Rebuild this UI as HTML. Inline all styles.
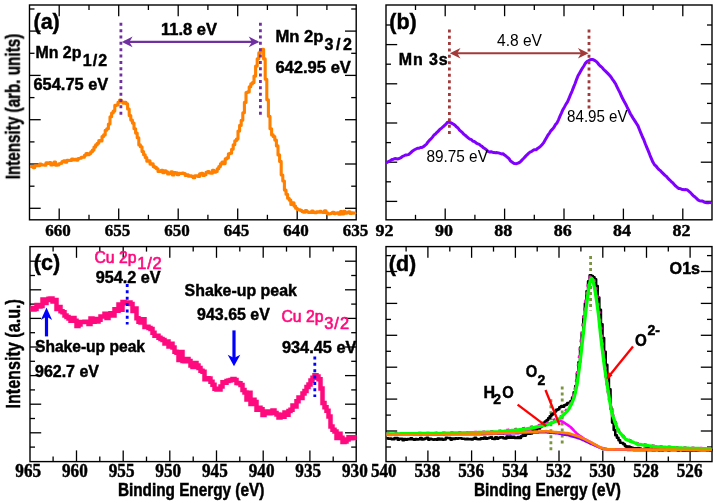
<!DOCTYPE html>
<html><head><meta charset="utf-8"><title>XPS spectra</title>
<style>html,body{margin:0;padding:0;background:#fff}svg{display:block}</style>
</head><body>
<svg width="717" height="503" viewBox="0 0 717 503">
<rect width="717" height="503" fill="#fff"/>
<defs><filter id="soft" x="0" y="0" width="100%" height="100%" filterUnits="userSpaceOnUse" color-interpolation-filters="sRGB"><feGaussianBlur stdDeviation="0.38"/></filter></defs>
<g filter="url(#soft)">
<rect width="717" height="503" fill="#fff"/>
<rect x="29.5" y="5" width="326.7" height="214.8" fill="#fff" stroke="#000" stroke-width="1.4"/>
<line x1="59.2" y1="219.8" x2="59.2" y2="208.6" stroke="#000" stroke-width="1.3" />
<line x1="59.2" y1="5.0" x2="59.2" y2="16.2" stroke="#000" stroke-width="1.3" />
<line x1="118.7" y1="219.8" x2="118.7" y2="208.6" stroke="#000" stroke-width="1.3" />
<line x1="118.7" y1="5.0" x2="118.7" y2="16.2" stroke="#000" stroke-width="1.3" />
<line x1="178.2" y1="219.8" x2="178.2" y2="208.6" stroke="#000" stroke-width="1.3" />
<line x1="178.2" y1="5.0" x2="178.2" y2="16.2" stroke="#000" stroke-width="1.3" />
<line x1="237.7" y1="219.8" x2="237.7" y2="208.6" stroke="#000" stroke-width="1.3" />
<line x1="237.7" y1="5.0" x2="237.7" y2="16.2" stroke="#000" stroke-width="1.3" />
<line x1="297.2" y1="219.8" x2="297.2" y2="208.6" stroke="#000" stroke-width="1.3" />
<line x1="297.2" y1="5.0" x2="297.2" y2="16.2" stroke="#000" stroke-width="1.3" />
<line x1="89.0" y1="219.8" x2="89.0" y2="214.8" stroke="#000" stroke-width="1.3" />
<line x1="89.0" y1="5.0" x2="89.0" y2="10.0" stroke="#000" stroke-width="1.3" />
<line x1="148.4" y1="219.8" x2="148.4" y2="214.8" stroke="#000" stroke-width="1.3" />
<line x1="148.4" y1="5.0" x2="148.4" y2="10.0" stroke="#000" stroke-width="1.3" />
<line x1="207.9" y1="219.8" x2="207.9" y2="214.8" stroke="#000" stroke-width="1.3" />
<line x1="207.9" y1="5.0" x2="207.9" y2="10.0" stroke="#000" stroke-width="1.3" />
<line x1="267.4" y1="219.8" x2="267.4" y2="214.8" stroke="#000" stroke-width="1.3" />
<line x1="267.4" y1="5.0" x2="267.4" y2="10.0" stroke="#000" stroke-width="1.3" />
<line x1="326.9" y1="219.8" x2="326.9" y2="214.8" stroke="#000" stroke-width="1.3" />
<line x1="326.9" y1="5.0" x2="326.9" y2="10.0" stroke="#000" stroke-width="1.3" />
<line x1="29.5" y1="208.3" x2="40.7" y2="208.3" stroke="#000" stroke-width="1.3" />
<line x1="356.2" y1="208.3" x2="345.0" y2="208.3" stroke="#000" stroke-width="1.3" />
<line x1="29.5" y1="164.0" x2="40.7" y2="164.0" stroke="#000" stroke-width="1.3" />
<line x1="356.2" y1="164.0" x2="345.0" y2="164.0" stroke="#000" stroke-width="1.3" />
<line x1="29.5" y1="119.7" x2="40.7" y2="119.7" stroke="#000" stroke-width="1.3" />
<line x1="356.2" y1="119.7" x2="345.0" y2="119.7" stroke="#000" stroke-width="1.3" />
<line x1="29.5" y1="75.4" x2="40.7" y2="75.4" stroke="#000" stroke-width="1.3" />
<line x1="356.2" y1="75.4" x2="345.0" y2="75.4" stroke="#000" stroke-width="1.3" />
<line x1="29.5" y1="31.1" x2="40.7" y2="31.1" stroke="#000" stroke-width="1.3" />
<line x1="356.2" y1="31.1" x2="345.0" y2="31.1" stroke="#000" stroke-width="1.3" />
<line x1="29.5" y1="186.2" x2="34.5" y2="186.2" stroke="#000" stroke-width="1.3" />
<line x1="356.2" y1="186.2" x2="351.2" y2="186.2" stroke="#000" stroke-width="1.3" />
<line x1="29.5" y1="141.9" x2="34.5" y2="141.9" stroke="#000" stroke-width="1.3" />
<line x1="356.2" y1="141.9" x2="351.2" y2="141.9" stroke="#000" stroke-width="1.3" />
<line x1="29.5" y1="97.6" x2="34.5" y2="97.6" stroke="#000" stroke-width="1.3" />
<line x1="356.2" y1="97.6" x2="351.2" y2="97.6" stroke="#000" stroke-width="1.3" />
<line x1="29.5" y1="53.3" x2="34.5" y2="53.3" stroke="#000" stroke-width="1.3" />
<line x1="356.2" y1="53.3" x2="351.2" y2="53.3" stroke="#000" stroke-width="1.3" />
<line x1="29.5" y1="9.0" x2="34.5" y2="9.0" stroke="#000" stroke-width="1.3" />
<line x1="356.2" y1="9.0" x2="351.2" y2="9.0" stroke="#000" stroke-width="1.3" />
<path d="M30.0 166.5L31.6 166.5L31.6 166.6L33.2 166.6L33.2 167.6L34.8 167.6L34.8 165.8L36.4 165.8L36.4 165.7L38.0 165.7L38.0 165.7L39.6 165.7L39.6 164.0L41.2 164.0L41.2 164.9L42.8 164.9L42.8 165.0L44.4 165.0L44.4 165.3L46.0 165.3L46.0 162.8L47.6 162.8L47.6 163.4L49.2 163.4L49.2 162.5L50.8 162.5L50.8 164.9L52.4 164.9L52.4 164.4L54.0 164.4L54.0 162.1L55.6 162.1L55.6 165.2L57.2 165.2L57.2 165.0L58.8 165.0L58.8 163.7L60.4 163.7L60.4 163.3L62.0 163.3L62.0 161.5L63.6 161.5L63.6 160.7L65.2 160.7L65.2 162.2L66.8 162.2L66.8 160.3L68.4 160.3L68.4 160.5L70.0 160.5L70.0 160.4L71.6 160.4L71.6 159.1L73.2 159.1L73.2 160.0L74.8 160.0L74.8 159.4L76.4 159.4L76.4 160.1L78.0 160.1L78.0 158.5L79.6 158.5L79.6 158.3L81.2 158.3L81.2 157.3L82.8 157.3L82.8 157.3L84.4 157.3L84.4 155.3L86.0 155.3L86.0 153.5L87.6 153.5L87.6 154.7L89.2 154.7L89.2 153.5L90.8 153.5L90.8 151.8L92.4 151.8L92.4 150.1L94.0 150.1L94.0 147.1L95.6 147.1L95.6 144.9L97.2 144.9L97.2 143.2L98.8 143.2L98.8 140.6L100.4 140.6L100.4 141.0L102.0 141.0L102.0 136.6L103.6 136.6L103.6 134.9L105.2 134.9L105.2 130.2L106.8 130.2L106.8 128.8L108.4 128.8L108.4 124.0L110.0 124.0L110.0 116.7L111.6 116.7L111.6 113.0L113.2 113.0L113.2 111.1L114.8 111.1L114.8 105.4L116.4 105.4L116.4 105.0L118.0 105.0L118.0 102.2L119.6 102.2L119.6 100.0L121.2 100.0L121.2 101.8L122.8 101.8L122.8 103.1L124.4 103.1L124.4 102.2L126.0 102.2L126.0 103.8L127.6 103.8L127.6 109.0L129.2 109.0L129.2 115.6L130.8 115.6L130.8 120.1L132.4 120.1L132.4 123.1L134.0 123.1L134.0 128.8L135.6 128.8L135.6 133.1L137.2 133.1L137.2 137.7L138.8 137.7L138.8 144.9L140.4 144.9L140.4 146.8L142.0 146.8L142.0 151.6L143.6 151.6L143.6 154.8L145.2 154.8L145.2 157.5L146.8 157.5L146.8 161.3L148.4 161.3L148.4 160.8L150.0 160.8L150.0 164.1L151.6 164.1L151.6 163.9L153.2 163.9L153.2 166.6L154.8 166.6L154.8 167.4L156.4 167.4L156.4 168.7L158.0 168.7L158.0 171.5L159.6 171.5L159.6 171.4L161.2 171.4L161.2 170.2L162.8 170.2L162.8 172.7L164.4 172.7L164.4 170.8L166.0 170.8L166.0 171.9L167.6 171.9L167.6 174.0L169.2 174.0L169.2 173.4L170.8 173.4L170.8 171.8L172.4 171.8L172.4 175.0L174.0 175.0L174.0 172.5L175.6 172.5L175.6 172.8L177.2 172.8L177.2 174.7L178.8 174.7L178.8 173.4L180.4 173.4L180.4 173.5L182.0 173.5L182.0 173.0L183.6 173.0L183.6 173.5L185.2 173.5L185.2 175.5L186.8 175.5L186.8 174.7L188.4 174.7L188.4 176.3L190.0 176.3L190.0 175.8L191.6 175.8L191.6 176.4L193.2 176.4L193.2 177.8L194.8 177.8L194.8 175.8L196.4 175.8L196.4 175.8L198.0 175.8L198.0 176.4L199.6 176.4L199.6 173.7L201.2 173.7L201.2 173.3L202.8 173.3L202.8 175.5L204.4 175.5L204.4 174.7L206.0 174.7L206.0 172.3L207.6 172.3L207.6 171.6L209.2 171.6L209.2 173.0L210.8 173.0L210.8 173.2L212.4 173.2L212.4 170.2L214.0 170.2L214.0 172.3L215.6 172.3L215.6 171.4L217.2 171.4L217.2 168.8L218.8 168.8L218.8 166.6L220.4 166.6L220.4 163.9L222.0 163.9L222.0 162.1L223.6 162.1L223.6 163.6L225.2 163.6L225.2 158.9L226.8 158.9L226.8 157.9L228.4 157.9L228.4 153.8L230.0 153.8L230.0 153.2L231.6 153.2L231.6 149.2L233.2 149.2L233.2 144.7L234.8 144.7L234.8 140.8L236.4 140.8L236.4 139.1L238.0 139.1L238.0 131.1L239.6 131.1L239.6 125.4L241.2 125.4L241.2 120.3L242.8 120.3L242.8 112.7L244.4 112.7L244.4 102.4L246.0 102.4L246.0 92.5L247.6 92.5L247.6 91.9L249.2 91.9L249.2 86.7L250.8 86.7L250.8 83.9L252.4 83.9L252.4 82.6L254.0 82.6L254.0 76.1L255.6 76.1L255.6 66.1L257.2 66.1L257.2 58.7L258.8 58.7L258.8 52.9L260.4 52.9L260.4 50.1L262.0 50.1L262.0 49.2L263.6 49.2L263.6 58.9L265.2 58.9L265.2 79.3L266.8 79.3L266.8 99.7L268.4 99.7L268.4 116.3L270.0 116.3L270.0 128.7L271.6 128.7L271.6 134.9L273.2 134.9L273.2 136.6L274.8 136.6L274.8 140.1L276.4 140.1L276.4 145.9L278.0 145.9L278.0 154.9L279.6 154.9L279.6 161.4L281.2 161.4L281.2 175.0L282.8 175.0L282.8 181.0L284.4 181.0L284.4 190.1L286.0 190.1L286.0 194.2L287.6 194.2L287.6 198.3L289.2 198.3L289.2 200.1L290.8 200.1L290.8 204.4L292.4 204.4L292.4 202.9L294.0 202.9L294.0 206.1L295.6 206.1L295.6 208.2L297.2 208.2L297.2 209.6L298.8 209.6L298.8 209.8L300.4 209.8L300.4 210.5L302.0 210.5L302.0 211.6L303.6 211.6L303.6 212.3L305.2 212.3L305.2 210.5L306.8 210.5L306.8 211.7L308.4 211.7L308.4 212.5L310.0 212.5L310.0 212.5L311.6 212.5L311.6 211.1L313.2 211.1L313.2 212.4L314.8 212.4L314.8 212.8L316.4 212.8L316.4 211.9L318.0 211.9L318.0 212.2L319.6 212.2L319.6 211.4L321.2 211.4L321.2 212.2L322.8 212.2L322.8 212.4L324.4 212.4L324.4 210.7L326.0 210.7L326.0 212.7L327.6 212.7L327.6 214.0L329.2 214.0L329.2 213.7L330.8 213.7L330.8 213.3L332.4 213.3L332.4 212.3L334.0 212.3L334.0 213.6L335.6 213.6L335.6 213.1L337.2 213.1L337.2 212.8L338.8 212.8L338.8 214.2L340.4 214.2L340.4 211.6L342.0 211.6L342.0 213.9L343.6 213.9L343.6 211.4L345.2 211.4L345.2 213.3L346.8 213.3L346.8 212.8L348.4 212.8L348.4 211.9L350.0 211.9L350.0 213.4L351.6 213.4L351.6 212.7L353.2 212.7L353.2 213.1L354.8 213.1L354.8 214.1" fill="none" stroke="#FF8000" stroke-width="3.1" stroke-linejoin="round"/>
<line x1="120.9" y1="22.8" x2="120.9" y2="114.8" stroke="#7030A0" stroke-width="2.8" stroke-dasharray="3 3.35"/>
<line x1="260.4" y1="22.8" x2="260.4" y2="114.8" stroke="#7030A0" stroke-width="2.8" stroke-dasharray="3 3.35"/>
<line x1="124.0" y1="41.9" x2="257.5" y2="41.9" stroke="#7030A0" stroke-width="2.1" />
<path d="M121.9 41.9 L132.6 36.6 L129.4 41.9 L132.6 47.2 Z" fill="#7030A0"/>
<path d="M259.4 41.9 L248.7 36.6 L251.9 41.9 L248.7 47.2 Z" fill="#7030A0"/>
<text x="189.0" y="34.8" font-family='"Liberation Sans", sans-serif' font-size="16" font-weight="bold" fill="#000" text-anchor="middle" textLength="56.0" lengthAdjust="spacingAndGlyphs" stroke="#000" stroke-width="0.45" >11.8 eV</text>
<text x="33.5" y="28.6" font-family='"Liberation Sans", sans-serif' font-size="21.5" font-weight="bold" fill="#000" text-anchor="start" stroke="#000" stroke-width="0.45" >(a)</text>
<text x="35.4" y="57.9" font-family='"Liberation Sans", sans-serif' font-size="16" font-weight="bold" fill="#000" text-anchor="start" textLength="46.0" lengthAdjust="spacingAndGlyphs" stroke="#000" stroke-width="0.45" >Mn 2p</text>
<text x="82.7" y="65.9" font-family='"Liberation Sans", sans-serif' font-size="16" font-weight="bold" fill="#000" text-anchor="start" textLength="24.5" lengthAdjust="spacing" stroke="#000" stroke-width="0.45" >1/2</text>
<text x="33.5" y="90.4" font-family='"Liberation Sans", sans-serif' font-size="16" font-weight="bold" fill="#000" text-anchor="start" textLength="74.7" lengthAdjust="spacingAndGlyphs" stroke="#000" stroke-width="0.45" >654.75 eV</text>
<text x="275.4" y="41.6" font-family='"Liberation Sans", sans-serif' font-size="16" font-weight="bold" fill="#000" text-anchor="start" textLength="48.0" lengthAdjust="spacingAndGlyphs" stroke="#000" stroke-width="0.45" >Mn 2p</text>
<text x="324.5" y="50.4" font-family='"Liberation Sans", sans-serif' font-size="16" font-weight="bold" fill="#000" text-anchor="start" textLength="27.5" lengthAdjust="spacing" stroke="#000" stroke-width="0.45" >3/2</text>
<text x="275.4" y="72.8" font-family='"Liberation Sans", sans-serif' font-size="16" font-weight="bold" fill="#000" text-anchor="start" textLength="75.5" lengthAdjust="spacingAndGlyphs" stroke="#000" stroke-width="0.45" >642.95 eV</text>
<text x="58.0" y="236.3" font-family='"Liberation Serif", serif' font-size="17.6" font-weight="bold" fill="#000" text-anchor="middle" textLength="25.5" lengthAdjust="spacingAndGlyphs" stroke="#000" stroke-width="0.45" >660</text>
<text x="117.5" y="236.3" font-family='"Liberation Serif", serif' font-size="17.6" font-weight="bold" fill="#000" text-anchor="middle" textLength="25.5" lengthAdjust="spacingAndGlyphs" stroke="#000" stroke-width="0.45" >655</text>
<text x="177.0" y="236.3" font-family='"Liberation Serif", serif' font-size="17.6" font-weight="bold" fill="#000" text-anchor="middle" textLength="25.5" lengthAdjust="spacingAndGlyphs" stroke="#000" stroke-width="0.45" >650</text>
<text x="236.5" y="236.3" font-family='"Liberation Serif", serif' font-size="17.6" font-weight="bold" fill="#000" text-anchor="middle" textLength="25.5" lengthAdjust="spacingAndGlyphs" stroke="#000" stroke-width="0.45" >645</text>
<text x="296.0" y="236.3" font-family='"Liberation Serif", serif' font-size="17.6" font-weight="bold" fill="#000" text-anchor="middle" textLength="25.5" lengthAdjust="spacingAndGlyphs" stroke="#000" stroke-width="0.45" >640</text>
<text x="355.5" y="236.3" font-family='"Liberation Serif", serif' font-size="17.6" font-weight="bold" fill="#000" text-anchor="middle" textLength="25.5" lengthAdjust="spacingAndGlyphs" stroke="#000" stroke-width="0.45" >635</text>
<text transform="translate(19.8 179.3) rotate(-90)" font-family='"Liberation Sans", sans-serif' font-size="21" font-weight="bold" stroke="#000" stroke-width="0.45" textLength="145.5" lengthAdjust="spacingAndGlyphs">Intensity (arb. units)</text>
<rect x="386" y="5" width="326" height="214.8" fill="#fff" stroke="#000" stroke-width="1.4"/>
<line x1="445.2" y1="219.8" x2="445.2" y2="208.6" stroke="#000" stroke-width="1.3" />
<line x1="445.2" y1="5.0" x2="445.2" y2="16.2" stroke="#000" stroke-width="1.3" />
<line x1="504.6" y1="219.8" x2="504.6" y2="208.6" stroke="#000" stroke-width="1.3" />
<line x1="504.6" y1="5.0" x2="504.6" y2="16.2" stroke="#000" stroke-width="1.3" />
<line x1="564.0" y1="219.8" x2="564.0" y2="208.6" stroke="#000" stroke-width="1.3" />
<line x1="564.0" y1="5.0" x2="564.0" y2="16.2" stroke="#000" stroke-width="1.3" />
<line x1="623.4" y1="219.8" x2="623.4" y2="208.6" stroke="#000" stroke-width="1.3" />
<line x1="623.4" y1="5.0" x2="623.4" y2="16.2" stroke="#000" stroke-width="1.3" />
<line x1="682.8" y1="219.8" x2="682.8" y2="208.6" stroke="#000" stroke-width="1.3" />
<line x1="682.8" y1="5.0" x2="682.8" y2="16.2" stroke="#000" stroke-width="1.3" />
<line x1="415.5" y1="219.8" x2="415.5" y2="214.8" stroke="#000" stroke-width="1.3" />
<line x1="415.5" y1="5.0" x2="415.5" y2="10.0" stroke="#000" stroke-width="1.3" />
<line x1="474.9" y1="219.8" x2="474.9" y2="214.8" stroke="#000" stroke-width="1.3" />
<line x1="474.9" y1="5.0" x2="474.9" y2="10.0" stroke="#000" stroke-width="1.3" />
<line x1="534.3" y1="219.8" x2="534.3" y2="214.8" stroke="#000" stroke-width="1.3" />
<line x1="534.3" y1="5.0" x2="534.3" y2="10.0" stroke="#000" stroke-width="1.3" />
<line x1="593.7" y1="219.8" x2="593.7" y2="214.8" stroke="#000" stroke-width="1.3" />
<line x1="593.7" y1="5.0" x2="593.7" y2="10.0" stroke="#000" stroke-width="1.3" />
<line x1="653.1" y1="219.8" x2="653.1" y2="214.8" stroke="#000" stroke-width="1.3" />
<line x1="653.1" y1="5.0" x2="653.1" y2="10.0" stroke="#000" stroke-width="1.3" />
<line x1="386.0" y1="201.4" x2="397.2" y2="201.4" stroke="#000" stroke-width="1.3" />
<line x1="712.0" y1="201.4" x2="700.8" y2="201.4" stroke="#000" stroke-width="1.3" />
<line x1="386.0" y1="162.2" x2="397.2" y2="162.2" stroke="#000" stroke-width="1.3" />
<line x1="712.0" y1="162.2" x2="700.8" y2="162.2" stroke="#000" stroke-width="1.3" />
<line x1="386.0" y1="123.0" x2="397.2" y2="123.0" stroke="#000" stroke-width="1.3" />
<line x1="712.0" y1="123.0" x2="700.8" y2="123.0" stroke="#000" stroke-width="1.3" />
<line x1="386.0" y1="83.8" x2="397.2" y2="83.8" stroke="#000" stroke-width="1.3" />
<line x1="712.0" y1="83.8" x2="700.8" y2="83.8" stroke="#000" stroke-width="1.3" />
<line x1="386.0" y1="44.6" x2="397.2" y2="44.6" stroke="#000" stroke-width="1.3" />
<line x1="712.0" y1="44.6" x2="700.8" y2="44.6" stroke="#000" stroke-width="1.3" />
<line x1="386.0" y1="181.8" x2="391.0" y2="181.8" stroke="#000" stroke-width="1.3" />
<line x1="712.0" y1="181.8" x2="707.0" y2="181.8" stroke="#000" stroke-width="1.3" />
<line x1="386.0" y1="142.6" x2="391.0" y2="142.6" stroke="#000" stroke-width="1.3" />
<line x1="712.0" y1="142.6" x2="707.0" y2="142.6" stroke="#000" stroke-width="1.3" />
<line x1="386.0" y1="103.4" x2="391.0" y2="103.4" stroke="#000" stroke-width="1.3" />
<line x1="712.0" y1="103.4" x2="707.0" y2="103.4" stroke="#000" stroke-width="1.3" />
<line x1="386.0" y1="64.2" x2="391.0" y2="64.2" stroke="#000" stroke-width="1.3" />
<line x1="712.0" y1="64.2" x2="707.0" y2="64.2" stroke="#000" stroke-width="1.3" />
<line x1="386.0" y1="25.0" x2="391.0" y2="25.0" stroke="#000" stroke-width="1.3" />
<line x1="712.0" y1="25.0" x2="707.0" y2="25.0" stroke="#000" stroke-width="1.3" />
<path d="M386.0 162.9L387.5 162.1L389.0 161.3L390.5 160.5L392.0 159.5L393.5 159.2L395.0 158.5L396.5 158.7L398.0 158.9L399.5 158.3L401.0 157.7L402.5 156.3L404.0 155.8L405.5 155.0L407.0 154.9L408.5 154.6L410.0 153.3L411.5 152.0L413.0 150.7L414.5 149.8L416.0 149.0L417.5 148.2L419.0 148.3L420.5 147.5L422.0 147.4L423.5 146.7L425.0 145.3L426.5 144.1L428.0 141.9L429.5 140.2L431.0 138.9L432.5 137.1L434.0 135.0L435.5 134.0L437.0 132.3L438.5 131.0L440.0 129.2L441.5 128.3L443.0 126.8L444.5 125.5L446.0 124.1L447.5 122.2L449.0 122.3L450.5 122.6L452.0 123.4L453.5 124.2L455.0 125.3L456.5 126.9L458.0 128.0L459.5 130.1L461.0 131.4L462.5 132.7L464.0 134.4L465.5 135.5L467.0 136.8L468.5 138.1L470.0 139.2L471.5 139.7L473.0 141.3L474.5 141.5L476.0 142.9L477.5 143.8L479.0 144.1L480.5 145.5L482.0 146.4L483.5 147.8L485.0 148.7L486.5 149.9L488.0 151.3L489.5 152.0L491.0 151.7L492.5 152.2L494.0 152.6L495.5 152.7L497.0 152.6L498.5 152.9L500.0 153.4L501.5 153.9L503.0 153.7L504.5 155.1L506.0 156.1L507.5 157.3L509.0 158.6L510.5 161.0L512.0 162.0L513.5 163.2L515.0 163.5L516.5 163.7L518.0 163.1L519.5 162.5L521.0 161.1L522.5 159.5L524.0 158.0L525.5 156.4L527.0 154.8L528.5 153.4L530.0 152.2L531.5 151.5L533.0 150.4L534.5 149.7L536.0 149.8L537.5 148.5L539.0 147.5L540.5 146.3L542.0 144.7L543.5 142.9L545.0 140.3L546.5 137.7L548.0 135.0L549.5 133.1L551.0 130.6L552.5 129.1L554.0 127.3L555.5 124.6L557.0 122.9L558.5 119.8L560.0 116.1L561.5 112.9L563.0 109.4L564.5 106.9L566.0 104.1L567.5 101.9L569.0 98.3L570.5 94.7L572.0 91.3L573.5 87.4L575.0 83.7L576.5 79.6L578.0 75.8L579.5 73.2L581.0 70.6L582.5 68.0L584.0 65.7L585.5 63.1L587.0 61.6L588.5 60.7L590.0 59.8L591.5 59.6L593.0 59.6L594.5 60.4L596.0 61.2L597.5 62.8L599.0 64.7L600.5 66.3L602.0 67.4L603.5 69.2L605.0 70.7L606.5 72.1L608.0 73.6L609.5 75.2L611.0 77.0L612.5 79.4L614.0 81.4L615.5 83.7L617.0 86.8L618.5 89.9L620.0 92.7L621.5 96.3L623.0 99.2L624.5 102.1L626.0 104.7L627.5 108.0L629.0 110.8L630.5 114.0L632.0 116.4L633.5 118.9L635.0 121.1L636.5 123.5L638.0 125.9L639.5 129.7L641.0 133.3L642.5 137.0L644.0 140.2L645.5 144.2L647.0 147.9L648.5 151.4L650.0 155.3L651.5 158.9L653.0 162.3L654.5 164.8L656.0 166.0L657.5 168.0L659.0 169.6L660.5 170.7L662.0 172.4L663.5 173.9L665.0 175.4L666.5 176.5L668.0 178.4L669.5 179.8L671.0 181.3L672.5 182.6L674.0 184.3L675.5 185.9L677.0 187.1L678.5 188.4L680.0 188.6L681.5 189.2L683.0 189.6L684.5 189.8L686.0 189.6L687.5 190.0L689.0 191.4L690.5 192.6L692.0 194.4L693.5 195.8L695.0 197.0L696.5 198.4L698.0 199.9L699.5 200.7L701.0 200.9L702.5 201.1L704.0 202.1L705.5 202.5L707.0 202.7L708.5 202.7L710.0 202.4L711.5 202.9" fill="none" stroke="#8000FF" stroke-width="3.0" stroke-linejoin="round"/>
<line x1="449.4" y1="29.4" x2="449.4" y2="134.2" stroke="#A33A3A" stroke-width="2.8" stroke-dasharray="3 3.35"/>
<line x1="589.0" y1="29.4" x2="589.0" y2="108.6" stroke="#A33A3A" stroke-width="2.8" stroke-dasharray="3 3.35"/>
<line x1="453.0" y1="53.3" x2="586.0" y2="53.3" stroke="#A33A3A" stroke-width="2.1" />
<path d="M449.8 53.3 L460.5 48.0 L457.3 53.3 L460.5 58.6 Z" fill="#A33A3A"/>
<path d="M588.6 53.3 L577.9 48.0 L581.1 53.3 L577.9 58.6 Z" fill="#A33A3A"/>
<text x="519.5" y="45.9" font-family='"Liberation Sans", sans-serif' font-size="15.6" font-weight="normal" fill="#000" text-anchor="middle" textLength="45.0" lengthAdjust="spacingAndGlyphs" >4.8 eV</text>
<text x="389.3" y="28.8" font-family='"Liberation Sans", sans-serif' font-size="21.5" font-weight="bold" fill="#000" text-anchor="start" stroke="#000" stroke-width="0.45" >(b)</text>
<text x="398.8" y="64.7" font-family='"Liberation Sans", sans-serif' font-size="16" font-weight="bold" fill="#000" text-anchor="start" textLength="48.8" lengthAdjust="spacing" stroke="#000" stroke-width="0.45" >Mn 3s</text>
<text x="426.4" y="162.3" font-family='"Liberation Sans", sans-serif' font-size="15.6" font-weight="normal" fill="#000" text-anchor="start" textLength="61.5" lengthAdjust="spacingAndGlyphs" >89.75 eV</text>
<text x="567.1" y="121.7" font-family='"Liberation Sans", sans-serif' font-size="15.6" font-weight="normal" fill="#000" text-anchor="start" textLength="60.5" lengthAdjust="spacingAndGlyphs" >84.95 eV</text>
<text x="384.5" y="236.4" font-family='"Liberation Serif", serif' font-size="17.6" font-weight="bold" fill="#000" text-anchor="middle" textLength="18.0" lengthAdjust="spacingAndGlyphs" stroke="#000" stroke-width="0.45" >92</text>
<text x="443.9" y="236.4" font-family='"Liberation Serif", serif' font-size="17.6" font-weight="bold" fill="#000" text-anchor="middle" textLength="18.0" lengthAdjust="spacingAndGlyphs" stroke="#000" stroke-width="0.45" >90</text>
<text x="503.3" y="236.4" font-family='"Liberation Serif", serif' font-size="17.6" font-weight="bold" fill="#000" text-anchor="middle" textLength="18.0" lengthAdjust="spacingAndGlyphs" stroke="#000" stroke-width="0.45" >88</text>
<text x="562.7" y="236.4" font-family='"Liberation Serif", serif' font-size="17.6" font-weight="bold" fill="#000" text-anchor="middle" textLength="18.0" lengthAdjust="spacingAndGlyphs" stroke="#000" stroke-width="0.45" >86</text>
<text x="622.1" y="236.4" font-family='"Liberation Serif", serif' font-size="17.6" font-weight="bold" fill="#000" text-anchor="middle" textLength="18.0" lengthAdjust="spacingAndGlyphs" stroke="#000" stroke-width="0.45" >84</text>
<text x="681.5" y="236.4" font-family='"Liberation Serif", serif' font-size="17.6" font-weight="bold" fill="#000" text-anchor="middle" textLength="18.0" lengthAdjust="spacingAndGlyphs" stroke="#000" stroke-width="0.45" >82</text>
<rect x="30" y="246.6" width="326.2" height="215.00000000000003" fill="#fff" stroke="#000" stroke-width="1.4"/>
<line x1="76.5" y1="461.6" x2="76.5" y2="450.4" stroke="#000" stroke-width="1.3" />
<line x1="76.5" y1="246.6" x2="76.5" y2="257.8" stroke="#000" stroke-width="1.3" />
<line x1="123.2" y1="461.6" x2="123.2" y2="450.4" stroke="#000" stroke-width="1.3" />
<line x1="123.2" y1="246.6" x2="123.2" y2="257.8" stroke="#000" stroke-width="1.3" />
<line x1="169.8" y1="461.6" x2="169.8" y2="450.4" stroke="#000" stroke-width="1.3" />
<line x1="169.8" y1="246.6" x2="169.8" y2="257.8" stroke="#000" stroke-width="1.3" />
<line x1="216.5" y1="461.6" x2="216.5" y2="450.4" stroke="#000" stroke-width="1.3" />
<line x1="216.5" y1="246.6" x2="216.5" y2="257.8" stroke="#000" stroke-width="1.3" />
<line x1="263.2" y1="461.6" x2="263.2" y2="450.4" stroke="#000" stroke-width="1.3" />
<line x1="263.2" y1="246.6" x2="263.2" y2="257.8" stroke="#000" stroke-width="1.3" />
<line x1="309.9" y1="461.6" x2="309.9" y2="450.4" stroke="#000" stroke-width="1.3" />
<line x1="309.9" y1="246.6" x2="309.9" y2="257.8" stroke="#000" stroke-width="1.3" />
<line x1="53.1" y1="461.6" x2="53.1" y2="456.6" stroke="#000" stroke-width="1.3" />
<line x1="53.1" y1="246.6" x2="53.1" y2="251.6" stroke="#000" stroke-width="1.3" />
<line x1="99.8" y1="461.6" x2="99.8" y2="456.6" stroke="#000" stroke-width="1.3" />
<line x1="99.8" y1="246.6" x2="99.8" y2="251.6" stroke="#000" stroke-width="1.3" />
<line x1="146.5" y1="461.6" x2="146.5" y2="456.6" stroke="#000" stroke-width="1.3" />
<line x1="146.5" y1="246.6" x2="146.5" y2="251.6" stroke="#000" stroke-width="1.3" />
<line x1="193.2" y1="461.6" x2="193.2" y2="456.6" stroke="#000" stroke-width="1.3" />
<line x1="193.2" y1="246.6" x2="193.2" y2="251.6" stroke="#000" stroke-width="1.3" />
<line x1="239.8" y1="461.6" x2="239.8" y2="456.6" stroke="#000" stroke-width="1.3" />
<line x1="239.8" y1="246.6" x2="239.8" y2="251.6" stroke="#000" stroke-width="1.3" />
<line x1="286.5" y1="461.6" x2="286.5" y2="456.6" stroke="#000" stroke-width="1.3" />
<line x1="286.5" y1="246.6" x2="286.5" y2="251.6" stroke="#000" stroke-width="1.3" />
<line x1="333.2" y1="461.6" x2="333.2" y2="456.6" stroke="#000" stroke-width="1.3" />
<line x1="333.2" y1="246.6" x2="333.2" y2="251.6" stroke="#000" stroke-width="1.3" />
<line x1="30.0" y1="432.8" x2="41.2" y2="432.8" stroke="#000" stroke-width="1.3" />
<line x1="356.2" y1="432.8" x2="345.0" y2="432.8" stroke="#000" stroke-width="1.3" />
<line x1="30.0" y1="404.2" x2="41.2" y2="404.2" stroke="#000" stroke-width="1.3" />
<line x1="356.2" y1="404.2" x2="345.0" y2="404.2" stroke="#000" stroke-width="1.3" />
<line x1="30.0" y1="375.6" x2="41.2" y2="375.6" stroke="#000" stroke-width="1.3" />
<line x1="356.2" y1="375.6" x2="345.0" y2="375.6" stroke="#000" stroke-width="1.3" />
<line x1="30.0" y1="347.0" x2="41.2" y2="347.0" stroke="#000" stroke-width="1.3" />
<line x1="356.2" y1="347.0" x2="345.0" y2="347.0" stroke="#000" stroke-width="1.3" />
<line x1="30.0" y1="318.4" x2="41.2" y2="318.4" stroke="#000" stroke-width="1.3" />
<line x1="356.2" y1="318.4" x2="345.0" y2="318.4" stroke="#000" stroke-width="1.3" />
<line x1="30.0" y1="289.8" x2="41.2" y2="289.8" stroke="#000" stroke-width="1.3" />
<line x1="356.2" y1="289.8" x2="345.0" y2="289.8" stroke="#000" stroke-width="1.3" />
<line x1="30.0" y1="261.2" x2="41.2" y2="261.2" stroke="#000" stroke-width="1.3" />
<line x1="356.2" y1="261.2" x2="345.0" y2="261.2" stroke="#000" stroke-width="1.3" />
<line x1="30.0" y1="447.1" x2="35.0" y2="447.1" stroke="#000" stroke-width="1.3" />
<line x1="356.2" y1="447.1" x2="351.2" y2="447.1" stroke="#000" stroke-width="1.3" />
<line x1="30.0" y1="418.5" x2="35.0" y2="418.5" stroke="#000" stroke-width="1.3" />
<line x1="356.2" y1="418.5" x2="351.2" y2="418.5" stroke="#000" stroke-width="1.3" />
<line x1="30.0" y1="389.9" x2="35.0" y2="389.9" stroke="#000" stroke-width="1.3" />
<line x1="356.2" y1="389.9" x2="351.2" y2="389.9" stroke="#000" stroke-width="1.3" />
<line x1="30.0" y1="361.3" x2="35.0" y2="361.3" stroke="#000" stroke-width="1.3" />
<line x1="356.2" y1="361.3" x2="351.2" y2="361.3" stroke="#000" stroke-width="1.3" />
<line x1="30.0" y1="332.7" x2="35.0" y2="332.7" stroke="#000" stroke-width="1.3" />
<line x1="356.2" y1="332.7" x2="351.2" y2="332.7" stroke="#000" stroke-width="1.3" />
<line x1="30.0" y1="304.1" x2="35.0" y2="304.1" stroke="#000" stroke-width="1.3" />
<line x1="356.2" y1="304.1" x2="351.2" y2="304.1" stroke="#000" stroke-width="1.3" />
<line x1="30.0" y1="275.5" x2="35.0" y2="275.5" stroke="#000" stroke-width="1.3" />
<line x1="356.2" y1="275.5" x2="351.2" y2="275.5" stroke="#000" stroke-width="1.3" />
<path d="M30.5 308.1L32.5 308.1L32.5 309.6L34.5 309.6L34.5 309.0L36.5 309.0L36.5 305.0L38.5 305.0L38.5 306.4L40.5 306.4L40.5 306.0L42.5 306.0L42.5 299.5L44.5 299.5L44.5 302.9L46.5 302.9L46.5 300.0L48.5 300.0L48.5 298.8L50.5 298.8L50.5 298.5L52.5 298.5L52.5 301.6L54.5 301.6L54.5 299.9L56.5 299.9L56.5 309.0L58.5 309.0L58.5 307.0L60.5 307.0L60.5 311.2L62.5 311.2L62.5 312.2L64.5 312.2L64.5 315.6L66.5 315.6L66.5 316.9L68.5 316.9L68.5 318.5L70.5 318.5L70.5 320.7L72.5 320.7L72.5 318.1L74.5 318.1L74.5 320.7L76.5 320.7L76.5 326.0L78.5 326.0L78.5 324.4L80.5 324.4L80.5 322.0L82.5 322.0L82.5 322.1L84.5 322.1L84.5 321.8L86.5 321.8L86.5 321.9L88.5 321.9L88.5 324.1L90.5 324.1L90.5 318.4L92.5 318.4L92.5 321.8L94.5 321.8L94.5 319.0L96.5 319.0L96.5 321.5L98.5 321.5L98.5 319.7L100.5 319.7L100.5 316.4L102.5 316.4L102.5 316.6L104.5 316.6L104.5 313.7L106.5 313.7L106.5 318.0L108.5 318.0L108.5 314.0L110.5 314.0L110.5 313.3L112.5 313.3L112.5 315.4L114.5 315.4L114.5 309.2L116.5 309.2L116.5 310.8L118.5 310.8L118.5 304.6L120.5 304.6L120.5 309.8L122.5 309.8L122.5 302.0L124.5 302.0L124.5 303.1L126.5 303.1L126.5 303.3L128.5 303.3L128.5 302.5L130.5 302.5L130.5 304.0L132.5 304.0L132.5 311.0L134.5 311.0L134.5 308.4L136.5 308.4L136.5 318.2L138.5 318.2L138.5 321.7L140.5 321.7L140.5 322.5L142.5 322.5L142.5 319.2L144.5 319.2L144.5 327.1L146.5 327.1L146.5 326.7L148.5 326.7L148.5 328.0L150.5 328.0L150.5 328.9L152.5 328.9L152.5 332.7L154.5 332.7L154.5 335.8L156.5 335.8L156.5 335.7L158.5 335.7L158.5 337.7L160.5 337.7L160.5 339.1L162.5 339.1L162.5 340.1L164.5 340.1L164.5 343.4L166.5 343.4L166.5 341.5L168.5 341.5L168.5 346.5L170.5 346.5L170.5 343.7L172.5 343.7L172.5 347.5L174.5 347.5L174.5 351.8L176.5 351.8L176.5 352.7L178.5 352.7L178.5 359.9L180.5 359.9L180.5 352.1L182.5 352.1L182.5 360.9L184.5 360.9L184.5 361.2L186.5 361.2L186.5 358.9L188.5 358.9L188.5 360.9L190.5 360.9L190.5 365.4L192.5 365.4L192.5 367.1L194.5 367.1L194.5 363.1L196.5 363.1L196.5 365.4L198.5 365.4L198.5 367.9L200.5 367.9L200.5 370.7L202.5 370.7L202.5 371.7L204.5 371.7L204.5 379.3L206.5 379.3L206.5 378.2L208.5 378.2L208.5 378.5L210.5 378.5L210.5 381.8L212.5 381.8L212.5 384.8L214.5 384.8L214.5 388.8L216.5 388.8L216.5 389.5L218.5 389.5L218.5 389.4L220.5 389.4L220.5 386.5L222.5 386.5L222.5 382.3L224.5 382.3L224.5 382.8L226.5 382.8L226.5 381.1L228.5 381.1L228.5 380.6L230.5 380.6L230.5 380.0L232.5 380.0L232.5 379.0L234.5 379.0L234.5 379.9L236.5 379.9L236.5 383.1L238.5 383.1L238.5 383.3L240.5 383.3L240.5 385.0L242.5 385.0L242.5 390.0L244.5 390.0L244.5 392.6L246.5 392.6L246.5 399.4L248.5 399.4L248.5 392.7L250.5 392.7L250.5 404.1L252.5 404.1L252.5 399.7L254.5 399.7L254.5 402.1L256.5 402.1L256.5 409.7L258.5 409.7L258.5 407.7L260.5 407.7L260.5 409.2L262.5 409.2L262.5 414.9L264.5 414.9L264.5 411.7L266.5 411.7L266.5 411.5L268.5 411.5L268.5 413.2L270.5 413.2L270.5 412.5L272.5 412.5L272.5 410.5L274.5 410.5L274.5 412.9L276.5 412.9L276.5 414.4L278.5 414.4L278.5 417.6L280.5 417.6L280.5 414.7L282.5 414.7L282.5 416.7L284.5 416.7L284.5 412.6L286.5 412.6L286.5 414.7L288.5 414.7L288.5 411.1L290.5 411.1L290.5 409.7L292.5 409.7L292.5 405.4L294.5 405.4L294.5 406.5L296.5 406.5L296.5 401.3L298.5 401.3L298.5 397.4L300.5 397.4L300.5 397.9L302.5 397.9L302.5 393.6L304.5 393.6L304.5 390.9L306.5 390.9L306.5 386.9L308.5 386.9L308.5 384.6L310.5 384.6L310.5 380.5L312.5 380.5L312.5 377.7L314.5 377.7L314.5 375.3L316.5 375.3L316.5 376.5L318.5 376.5L318.5 379.2L320.5 379.2L320.5 388.5L322.5 388.5L322.5 403.0L324.5 403.0L324.5 407.2L326.5 407.2L326.5 410.7L328.5 410.7L328.5 416.4L330.5 416.4L330.5 426.6L332.5 426.6L332.5 429.7L334.5 429.7L334.5 431.4L336.5 431.4L336.5 438.0L338.5 438.0L338.5 433.7L340.5 433.7L340.5 437.7L342.5 437.7L342.5 441.9L344.5 441.9L344.5 441.5L346.5 441.5L346.5 439.4L348.5 439.4L348.5 437.3L350.5 437.3L350.5 438.2L352.5 438.2L352.5 437.3L354.5 437.3L354.5 440.1" fill="none" stroke="#FF0A7E" stroke-width="4.5" stroke-linejoin="miter"/>
<line x1="127.2" y1="284.0" x2="127.2" y2="324.5" stroke="#0000FF" stroke-width="2.8" stroke-dasharray="3 3.35"/>
<line x1="314.8" y1="356.5" x2="314.8" y2="397.0" stroke="#0000FF" stroke-width="2.8" stroke-dasharray="3 3.35"/>
<line x1="46.5" y1="336.4" x2="46.5" y2="314.0" stroke="#0000FF" stroke-width="3.2" />
<path d="M46.5 307.6 L52.1 319.9 L46.5 316.4 L40.9 319.9 Z" fill="#0000FF"/>
<line x1="234.0" y1="330.4" x2="234.0" y2="359.0" stroke="#0000FF" stroke-width="3.2" />
<path d="M234 366.2 L240.3 354.8 L234 357.9 L227.7 354.8 Z" fill="#0000FF"/>
<text x="33.8" y="270.2" font-family='"Liberation Sans", sans-serif' font-size="21.5" font-weight="bold" fill="#000" text-anchor="start" stroke="#000" stroke-width="0.45" >(c)</text>
<text x="94.4" y="262.6" font-family='"Liberation Sans", sans-serif' font-size="16.4" font-weight="normal" fill="#FF0A7E" text-anchor="start" textLength="42.0" lengthAdjust="spacingAndGlyphs" stroke="#FF0A7E" stroke-width="0.65">Cu 2p</text>
<text x="137.3" y="269.1" font-family='"Liberation Sans", sans-serif' font-size="16.4" font-weight="normal" fill="#FF0A7E" text-anchor="start" textLength="24.3" lengthAdjust="spacing" stroke="#FF0A7E" stroke-width="0.65">1/2</text>
<text x="95.7" y="282.7" font-family='"Liberation Sans", sans-serif' font-size="16" font-weight="bold" fill="#000" text-anchor="start" textLength="65.0" lengthAdjust="spacingAndGlyphs" stroke="#000" stroke-width="0.45" >954.2 eV</text>
<text x="35.0" y="351.8" font-family='"Liberation Sans", sans-serif' font-size="16" font-weight="bold" fill="#000" text-anchor="start" textLength="110.0" lengthAdjust="spacingAndGlyphs" stroke="#000" stroke-width="0.45" >Shake-up peak</text>
<text x="35.0" y="377.0" font-family='"Liberation Sans", sans-serif' font-size="16" font-weight="bold" fill="#000" text-anchor="start" textLength="64.0" lengthAdjust="spacingAndGlyphs" stroke="#000" stroke-width="0.45" >962.7 eV</text>
<text x="184.6" y="295.7" font-family='"Liberation Sans", sans-serif' font-size="16" font-weight="bold" fill="#000" text-anchor="start" textLength="112.3" lengthAdjust="spacingAndGlyphs" stroke="#000" stroke-width="0.45" >Shake-up peak</text>
<text x="197.1" y="320.1" font-family='"Liberation Sans", sans-serif' font-size="16" font-weight="bold" fill="#000" text-anchor="start" textLength="72.8" lengthAdjust="spacingAndGlyphs" stroke="#000" stroke-width="0.45" >943.65 eV</text>
<text x="281.5" y="322.0" font-family='"Liberation Sans", sans-serif' font-size="16.4" font-weight="normal" fill="#FF0A7E" text-anchor="start" textLength="42.0" lengthAdjust="spacingAndGlyphs" stroke="#FF0A7E" stroke-width="0.65">Cu 2p</text>
<text x="324.2" y="328.8" font-family='"Liberation Sans", sans-serif' font-size="16.4" font-weight="normal" fill="#FF0A7E" text-anchor="start" textLength="24.8" lengthAdjust="spacing" stroke="#FF0A7E" stroke-width="0.65">3/2</text>
<text x="281.9" y="353.3" font-family='"Liberation Sans", sans-serif' font-size="16" font-weight="bold" fill="#000" text-anchor="start" textLength="74.5" lengthAdjust="spacingAndGlyphs" stroke="#000" stroke-width="0.45" >934.45 eV</text>
<text x="28.2" y="477.1" font-family='"Liberation Serif", serif' font-size="18" font-weight="bold" fill="#000" text-anchor="middle" textLength="25.7" lengthAdjust="spacingAndGlyphs" stroke="#000" stroke-width="0.45" >965</text>
<text x="74.9" y="477.1" font-family='"Liberation Serif", serif' font-size="18" font-weight="bold" fill="#000" text-anchor="middle" textLength="25.7" lengthAdjust="spacingAndGlyphs" stroke="#000" stroke-width="0.45" >960</text>
<text x="121.6" y="477.1" font-family='"Liberation Serif", serif' font-size="18" font-weight="bold" fill="#000" text-anchor="middle" textLength="25.7" lengthAdjust="spacingAndGlyphs" stroke="#000" stroke-width="0.45" >955</text>
<text x="168.2" y="477.1" font-family='"Liberation Serif", serif' font-size="18" font-weight="bold" fill="#000" text-anchor="middle" textLength="25.7" lengthAdjust="spacingAndGlyphs" stroke="#000" stroke-width="0.45" >950</text>
<text x="214.9" y="477.1" font-family='"Liberation Serif", serif' font-size="18" font-weight="bold" fill="#000" text-anchor="middle" textLength="25.7" lengthAdjust="spacingAndGlyphs" stroke="#000" stroke-width="0.45" >945</text>
<text x="261.6" y="477.1" font-family='"Liberation Serif", serif' font-size="18" font-weight="bold" fill="#000" text-anchor="middle" textLength="25.7" lengthAdjust="spacingAndGlyphs" stroke="#000" stroke-width="0.45" >940</text>
<text x="308.2" y="477.1" font-family='"Liberation Serif", serif' font-size="18" font-weight="bold" fill="#000" text-anchor="middle" textLength="25.7" lengthAdjust="spacingAndGlyphs" stroke="#000" stroke-width="0.45" >935</text>
<text x="354.9" y="477.1" font-family='"Liberation Serif", serif' font-size="18" font-weight="bold" fill="#000" text-anchor="middle" textLength="25.7" lengthAdjust="spacingAndGlyphs" stroke="#000" stroke-width="0.45" >930</text>
<text x="191.1" y="496.3" font-family='"Liberation Sans", sans-serif' font-size="18.2" font-weight="bold" fill="#000" text-anchor="middle" textLength="146.4" lengthAdjust="spacingAndGlyphs" stroke="#000" stroke-width="0.5">Binding Energy (eV)</text>
<text transform="translate(19.7 408.6) rotate(-90)" font-family='"Liberation Sans", sans-serif' font-size="21" font-weight="bold" stroke="#000" stroke-width="0.45" textLength="109.5" lengthAdjust="spacingAndGlyphs">Intensity (a.u.)</text>
<rect x="386" y="246.6" width="326" height="215.00000000000003" fill="#fff" stroke="#000" stroke-width="1.4"/>
<line x1="427.9" y1="461.6" x2="427.9" y2="450.4" stroke="#000" stroke-width="1.3" />
<line x1="427.9" y1="246.6" x2="427.9" y2="257.8" stroke="#000" stroke-width="1.3" />
<line x1="471.6" y1="461.6" x2="471.6" y2="450.4" stroke="#000" stroke-width="1.3" />
<line x1="471.6" y1="246.6" x2="471.6" y2="257.8" stroke="#000" stroke-width="1.3" />
<line x1="515.4" y1="461.6" x2="515.4" y2="450.4" stroke="#000" stroke-width="1.3" />
<line x1="515.4" y1="246.6" x2="515.4" y2="257.8" stroke="#000" stroke-width="1.3" />
<line x1="559.0" y1="461.6" x2="559.0" y2="450.4" stroke="#000" stroke-width="1.3" />
<line x1="559.0" y1="246.6" x2="559.0" y2="257.8" stroke="#000" stroke-width="1.3" />
<line x1="602.8" y1="461.6" x2="602.8" y2="450.4" stroke="#000" stroke-width="1.3" />
<line x1="602.8" y1="246.6" x2="602.8" y2="257.8" stroke="#000" stroke-width="1.3" />
<line x1="646.5" y1="461.6" x2="646.5" y2="450.4" stroke="#000" stroke-width="1.3" />
<line x1="646.5" y1="246.6" x2="646.5" y2="257.8" stroke="#000" stroke-width="1.3" />
<line x1="690.1" y1="461.6" x2="690.1" y2="450.4" stroke="#000" stroke-width="1.3" />
<line x1="690.1" y1="246.6" x2="690.1" y2="257.8" stroke="#000" stroke-width="1.3" />
<line x1="406.1" y1="461.6" x2="406.1" y2="456.6" stroke="#000" stroke-width="1.3" />
<line x1="406.1" y1="246.6" x2="406.1" y2="251.6" stroke="#000" stroke-width="1.3" />
<line x1="449.8" y1="461.6" x2="449.8" y2="456.6" stroke="#000" stroke-width="1.3" />
<line x1="449.8" y1="246.6" x2="449.8" y2="251.6" stroke="#000" stroke-width="1.3" />
<line x1="493.5" y1="461.6" x2="493.5" y2="456.6" stroke="#000" stroke-width="1.3" />
<line x1="493.5" y1="246.6" x2="493.5" y2="251.6" stroke="#000" stroke-width="1.3" />
<line x1="537.2" y1="461.6" x2="537.2" y2="456.6" stroke="#000" stroke-width="1.3" />
<line x1="537.2" y1="246.6" x2="537.2" y2="251.6" stroke="#000" stroke-width="1.3" />
<line x1="580.9" y1="461.6" x2="580.9" y2="456.6" stroke="#000" stroke-width="1.3" />
<line x1="580.9" y1="246.6" x2="580.9" y2="251.6" stroke="#000" stroke-width="1.3" />
<line x1="624.6" y1="461.6" x2="624.6" y2="456.6" stroke="#000" stroke-width="1.3" />
<line x1="624.6" y1="246.6" x2="624.6" y2="251.6" stroke="#000" stroke-width="1.3" />
<line x1="668.3" y1="461.6" x2="668.3" y2="456.6" stroke="#000" stroke-width="1.3" />
<line x1="668.3" y1="246.6" x2="668.3" y2="251.6" stroke="#000" stroke-width="1.3" />
<line x1="386.0" y1="431.0" x2="397.2" y2="431.0" stroke="#000" stroke-width="1.3" />
<line x1="712.0" y1="431.0" x2="700.8" y2="431.0" stroke="#000" stroke-width="1.3" />
<line x1="386.0" y1="399.1" x2="397.2" y2="399.1" stroke="#000" stroke-width="1.3" />
<line x1="712.0" y1="399.1" x2="700.8" y2="399.1" stroke="#000" stroke-width="1.3" />
<line x1="386.0" y1="367.2" x2="397.2" y2="367.2" stroke="#000" stroke-width="1.3" />
<line x1="712.0" y1="367.2" x2="700.8" y2="367.2" stroke="#000" stroke-width="1.3" />
<line x1="386.0" y1="335.3" x2="397.2" y2="335.3" stroke="#000" stroke-width="1.3" />
<line x1="712.0" y1="335.3" x2="700.8" y2="335.3" stroke="#000" stroke-width="1.3" />
<line x1="386.0" y1="303.4" x2="397.2" y2="303.4" stroke="#000" stroke-width="1.3" />
<line x1="712.0" y1="303.4" x2="700.8" y2="303.4" stroke="#000" stroke-width="1.3" />
<line x1="386.0" y1="271.5" x2="397.2" y2="271.5" stroke="#000" stroke-width="1.3" />
<line x1="712.0" y1="271.5" x2="700.8" y2="271.5" stroke="#000" stroke-width="1.3" />
<line x1="386.0" y1="447.0" x2="391.0" y2="447.0" stroke="#000" stroke-width="1.3" />
<line x1="712.0" y1="447.0" x2="707.0" y2="447.0" stroke="#000" stroke-width="1.3" />
<line x1="386.0" y1="415.1" x2="391.0" y2="415.1" stroke="#000" stroke-width="1.3" />
<line x1="712.0" y1="415.1" x2="707.0" y2="415.1" stroke="#000" stroke-width="1.3" />
<line x1="386.0" y1="383.2" x2="391.0" y2="383.2" stroke="#000" stroke-width="1.3" />
<line x1="712.0" y1="383.2" x2="707.0" y2="383.2" stroke="#000" stroke-width="1.3" />
<line x1="386.0" y1="351.3" x2="391.0" y2="351.3" stroke="#000" stroke-width="1.3" />
<line x1="712.0" y1="351.3" x2="707.0" y2="351.3" stroke="#000" stroke-width="1.3" />
<line x1="386.0" y1="319.4" x2="391.0" y2="319.4" stroke="#000" stroke-width="1.3" />
<line x1="712.0" y1="319.4" x2="707.0" y2="319.4" stroke="#000" stroke-width="1.3" />
<line x1="386.0" y1="287.5" x2="391.0" y2="287.5" stroke="#000" stroke-width="1.3" />
<line x1="712.0" y1="287.5" x2="707.0" y2="287.5" stroke="#000" stroke-width="1.3" />
<line x1="386.0" y1="255.6" x2="391.0" y2="255.6" stroke="#000" stroke-width="1.3" />
<line x1="712.0" y1="255.6" x2="707.0" y2="255.6" stroke="#000" stroke-width="1.3" />
<line x1="590.6" y1="256.0" x2="590.6" y2="310.5" stroke="#7A9440" stroke-width="2.8" stroke-dasharray="3 3"/>
<line x1="550.9" y1="399.2" x2="550.9" y2="451.0" stroke="#7A9440" stroke-width="2.8" stroke-dasharray="3 3"/>
<line x1="562.2" y1="386.6" x2="562.2" y2="445.5" stroke="#7A9440" stroke-width="2.8" stroke-dasharray="3 3"/>
<path d="M386.5 438.2L388.1 438.2L388.1 438.8L389.7 438.8L389.7 438.6L391.3 438.6L391.3 439.1L392.9 439.1L392.9 439.2L394.5 439.2L394.5 438.1L396.1 438.1L396.1 438.1L397.7 438.1L397.7 439.8L399.3 439.8L399.3 438.7L400.9 438.7L400.9 438.7L402.5 438.7L402.5 440.2L404.1 440.2L404.1 439.1L405.7 439.1L405.7 439.8L407.3 439.8L407.3 439.0L408.9 439.0L408.9 439.3L410.5 439.3L410.5 438.3L412.1 438.3L412.1 439.3L413.7 439.3L413.7 439.7L415.3 439.7L415.3 439.0L416.9 439.0L416.9 439.4L418.5 439.4L418.5 439.3L420.1 439.3L420.1 438.0L421.7 438.0L421.7 439.4L423.3 439.4L423.3 439.1L424.9 439.1L424.9 438.5L426.5 438.5L426.5 437.9L428.1 437.9L428.1 439.6L429.7 439.6L429.7 438.8L431.3 438.8L431.3 439.3L432.9 439.3L432.9 439.6L434.5 439.6L434.5 439.3L436.1 439.3L436.1 439.7L437.7 439.7L437.7 438.6L439.3 438.6L439.3 439.4L440.9 439.4L440.9 438.7L442.5 438.7L442.5 439.6L444.1 439.6L444.1 439.5L445.7 439.5L445.7 437.9L447.3 437.9L447.3 438.0L448.9 438.0L448.9 438.1L450.5 438.1L450.5 439.6L452.1 439.6L452.1 438.5L453.7 438.5L453.7 438.9L455.3 438.9L455.3 438.2L456.9 438.2L456.9 438.6L458.5 438.6L458.5 438.3L460.1 438.3L460.1 438.2L461.7 438.2L461.7 438.7L463.3 438.7L463.3 438.7L464.9 438.7L464.9 439.3L466.5 439.3L466.5 438.8L468.1 438.8L468.1 439.3L469.7 439.3L469.7 439.1L471.3 439.1L471.3 439.4L472.9 439.4L472.9 438.7L474.5 438.7L474.5 437.7L476.1 437.7L476.1 439.0L477.7 439.0L477.7 439.2L479.3 439.2L479.3 439.1L480.9 439.1L480.9 438.4L482.5 438.4L482.5 438.6L484.1 438.6L484.1 437.6L485.7 437.6L485.7 438.8L487.3 438.8L487.3 438.3L488.9 438.3L488.9 437.7L490.5 437.7L490.5 437.2L492.1 437.2L492.1 438.7L493.7 438.7L493.7 439.0L495.3 439.0L495.3 437.2L496.9 437.2L496.9 438.6L498.5 438.6L498.5 437.7L500.1 437.7L500.1 437.2L501.7 437.2L501.7 437.4L503.3 437.4L503.3 438.3L504.9 438.3L504.9 438.4L506.5 438.4L506.5 436.6L508.1 436.6L508.1 437.7L509.7 437.7L509.7 436.5L511.3 436.5L511.3 437.7L512.9 437.7L512.9 436.9L514.5 436.9L514.5 437.9L516.1 437.9L516.1 438.0L517.7 438.0L517.7 437.0L519.3 437.0L519.3 437.9L520.9 437.9L520.9 436.2L522.5 436.2L522.5 435.2L524.1 435.2L524.1 435.7L525.7 435.7L525.7 434.0L527.3 434.0L527.3 433.8L528.9 433.8L528.9 433.7L530.5 433.7L530.5 433.4L532.1 433.4L532.1 431.4L533.7 431.4L533.7 430.0L535.3 430.0L535.3 430.6L536.9 430.6L536.9 428.4L538.5 428.4L538.5 428.4L540.1 428.4L540.1 426.8L541.7 426.8L541.7 424.3L543.3 424.3L543.3 422.9L544.9 422.9L544.9 421.5L546.5 421.5L546.5 420.3L548.1 420.3L548.1 418.3L549.7 418.3L549.7 416.3L551.3 416.3L551.3 414.6L552.9 414.6L552.9 413.6L554.5 413.6L554.5 411.4L556.1 411.4L556.1 409.9L557.7 409.9L557.7 409.3L559.3 409.3L559.3 407.3L560.9 407.3L560.9 406.4L562.5 406.4L562.5 406.8L564.1 406.8L564.1 405.2L565.7 405.2L565.7 404.6L567.3 404.6L567.3 403.0L568.9 403.0L568.9 402.8L570.5 402.8L570.5 401.1L572.1 401.1L572.1 397.6L573.7 397.6L573.7 392.4L575.3 392.4L575.3 386.1L576.9 386.1L576.9 373.4L578.5 373.4L578.5 362.3L580.1 362.3L580.1 347.5L581.7 347.5L581.7 333.4L583.3 333.4L583.3 316.7L584.9 316.7L584.9 303.5L586.5 303.5L586.5 291.3L588.1 291.3L588.1 281.3L589.7 281.3L589.7 275.3L591.3 275.3L591.3 276.1L592.9 276.1L592.9 277.2L594.5 277.2L594.5 279.3L596.1 279.3L596.1 286.1L597.7 286.1L597.7 297.6L599.3 297.6L599.3 309.8L600.9 309.8L600.9 324.3L602.5 324.3L602.5 338.1L604.1 338.1L604.1 351.8L605.7 351.8L605.7 364.8L607.3 364.8L607.3 375.8L608.9 375.8L608.9 389.4L610.5 389.4L610.5 408.7L612.1 408.7L612.1 422.6L613.7 422.6L613.7 430.0L615.3 430.0L615.3 435.2L616.9 435.2L616.9 437.7L618.5 437.7L618.5 440.3L620.1 440.3L620.1 442.8L621.7 442.8L621.7 443.0L623.3 443.0L623.3 444.2L624.9 444.2L624.9 446.1L626.5 446.1L626.5 447.3L628.1 447.3L628.1 446.5L629.7 446.5L629.7 447.4L631.3 447.4L631.3 447.8L632.9 447.8L632.9 449.1L634.5 449.1L634.5 448.4L636.1 448.4L636.1 449.4L637.7 449.4L637.7 448.1L639.3 448.1L639.3 448.5L640.9 448.5L640.9 449.2L642.5 449.2L642.5 449.7L644.1 449.7L644.1 448.9L645.7 448.9L645.7 448.5L647.3 448.5L647.3 448.4L648.9 448.4L648.9 449.3L650.5 449.3L650.5 448.7L652.1 448.7L652.1 449.9L653.7 449.9L653.7 450.0L655.3 450.0L655.3 448.8L656.9 448.8L656.9 449.0L658.5 449.0L658.5 450.1L660.1 450.1L660.1 449.8L661.7 449.8L661.7 450.1L663.3 450.1L663.3 449.2L664.9 449.2L664.9 448.8L666.5 448.8L666.5 449.2L668.1 449.2L668.1 450.2L669.7 450.2L669.7 449.2L671.3 449.2L671.3 449.3L672.9 449.3L672.9 449.5L674.5 449.5L674.5 449.5L676.1 449.5L676.1 449.6L677.7 449.6L677.7 450.6L679.3 450.6L679.3 449.1L680.9 449.1L680.9 448.8L682.5 448.8L682.5 450.7L684.1 450.7L684.1 450.6L685.7 450.6L685.7 450.8L687.3 450.8L687.3 449.7L688.9 449.7L688.9 450.8L690.5 450.8L690.5 450.7L692.1 450.7L692.1 449.3L693.7 449.3L693.7 450.4L695.3 450.4L695.3 450.6L696.9 450.6L696.9 450.2L698.5 450.2L698.5 450.0L700.1 450.0L700.1 449.5L701.7 449.5L701.7 449.6L703.3 449.6L703.3 449.4L704.9 449.4L704.9 449.1L706.5 449.1L706.5 450.1L708.1 450.1L708.1 449.6L709.7 449.6L709.7 450.6L711.3 450.6L711.3 449.1" fill="none" stroke="#000" stroke-width="2.6" stroke-linejoin="round"/>
<path d="M386.5 434.0L387.5 434.0L388.5 434.0L389.5 434.0L390.5 434.0L391.5 433.9L392.5 433.9L393.5 433.9L394.5 433.9L395.5 433.9L396.5 433.9L397.5 433.9L398.5 433.9L399.5 433.9L400.5 433.8L401.5 433.8L402.5 433.8L403.5 433.8L404.5 433.8L405.5 433.8L406.5 433.8L407.5 433.8L408.5 433.8L409.5 433.7L410.5 433.7L411.5 433.7L412.5 433.7L413.5 433.7L414.5 433.7L415.5 433.7L416.5 433.7L417.5 433.7L418.5 433.6L419.5 433.6L420.5 433.6L421.5 433.6L422.5 433.6L423.5 433.6L424.5 433.6L425.5 433.6L426.5 433.6L427.5 433.5L428.5 433.5L429.5 433.5L430.5 433.5L431.5 433.5L432.5 433.5L433.5 433.5L434.5 433.5L435.5 433.5L436.5 433.4L437.5 433.4L438.5 433.4L439.5 433.4L440.5 433.4L441.5 433.4L442.5 433.3L443.5 433.3L444.5 433.3L445.5 433.3L446.5 433.2L447.5 433.2L448.5 433.2L449.5 433.2L450.5 433.1L451.5 433.1L452.5 433.1L453.5 433.1L454.5 433.0L455.5 433.0L456.5 433.0L457.5 433.0L458.5 432.9L459.5 432.9L460.5 432.9L461.5 432.9L462.5 432.8L463.5 432.8L464.5 432.8L465.5 432.8L466.5 432.7L467.5 432.7L468.5 432.7L469.5 432.7L470.5 432.6L471.5 432.6L472.5 432.6L473.5 432.6L474.5 432.5L475.5 432.5L476.5 432.5L477.5 432.5L478.5 432.4L479.5 432.4L480.5 432.4L481.5 432.3L482.5 432.3L483.5 432.2L484.5 432.2L485.5 432.1L486.5 432.0L487.5 432.0L488.5 431.9L489.5 431.9L490.5 431.8L491.5 431.8L492.5 431.7L493.5 431.7L494.5 431.6L495.5 431.5L496.5 431.5L497.5 431.4L498.5 431.4L499.5 431.3L500.5 431.2L501.5 431.1L502.5 431.0L503.5 430.9L504.5 430.8L505.5 430.7L506.5 430.6L507.5 430.5L508.5 430.4L509.5 430.3L510.5 430.1L511.5 430.0L512.5 429.9L513.5 429.8L514.5 429.7L515.5 429.6L516.5 429.5L517.5 429.4L518.5 429.3L519.5 429.2L520.5 429.1L521.5 428.9L522.5 428.8L523.5 428.7L524.5 428.6L525.5 428.4L526.5 428.2L527.5 428.0L528.5 427.8L529.5 427.6L530.5 427.4L531.5 427.2L532.5 427.0L533.5 426.8L534.5 426.6L535.5 426.4L536.5 426.2L537.5 426.0L538.5 425.8L539.5 425.6L540.5 425.4L541.5 425.2L542.5 425.0L543.5 424.8L544.5 424.6L545.5 424.4L546.5 424.2L547.5 423.7L548.5 423.2L549.5 422.7L550.5 422.2L551.5 421.7L552.5 421.2L553.5 420.7L554.5 420.2L555.5 419.7L556.5 419.2L557.5 418.7L558.5 418.2L559.5 417.7L560.5 417.2L561.5 416.7L562.5 415.6L563.5 414.3L564.5 413.0L565.5 411.7L566.5 410.4L567.5 409.1L568.5 407.7L569.5 406.0L570.5 404.3L571.5 402.7L572.5 401.0L573.5 396.7L574.5 392.4L575.5 388.1L576.5 382.0L577.5 374.0L578.5 366.0L579.5 357.5L580.5 348.5L581.5 339.5L582.5 330.5L583.5 321.6L584.5 312.7L585.5 304.6L586.5 296.8L587.5 289.0L588.5 284.2L589.5 279.4L590.5 276.8L591.5 276.4L592.5 276.0L593.5 279.2L594.5 282.4L595.5 287.3L596.5 294.0L597.5 300.7L598.5 308.5L599.5 317.5L600.5 326.5L601.5 336.0L602.5 346.0L603.5 356.0L604.5 365.1L605.5 372.2L606.5 379.3L607.5 386.4L608.5 393.0L609.5 399.1L610.5 405.2L611.5 411.3L612.5 414.7L613.5 417.5L614.5 420.3L615.5 423.1L616.5 425.8L617.5 428.6L618.5 430.6L619.5 431.8L620.5 433.0L621.5 434.2L622.5 435.4L623.5 436.6L624.5 437.8L625.5 439.0L626.5 439.4L627.5 439.8L628.5 440.2L629.5 440.6L630.5 441.0L631.5 441.4L632.5 441.8L633.5 442.2L634.5 442.6L635.5 443.0L636.5 443.4L637.5 443.8L638.5 444.1L639.5 444.2L640.5 444.4L641.5 444.5L642.5 444.6L643.5 444.8L644.5 444.9L645.5 445.1L646.5 445.2L647.5 445.4L648.5 445.5L649.5 445.7L650.5 445.8L651.5 446.0L652.5 446.1L653.5 446.3L654.5 446.4L655.5 446.6L656.5 446.6L657.5 446.7L658.5 446.7L659.5 446.8L660.5 446.9L661.5 446.9L662.5 447.0L663.5 447.0L664.5 447.1L665.5 447.1L666.5 447.2L667.5 447.2L668.5 447.3L669.5 447.3L670.5 447.4L671.5 447.4L672.5 447.5L673.5 447.6L674.5 447.6L675.5 447.7L676.5 447.7L677.5 447.8L678.5 447.8L679.5 447.9L680.5 447.9L681.5 447.9L682.5 448.0L683.5 448.0L684.5 448.0L685.5 448.1L686.5 448.1L687.5 448.1L688.5 448.1L689.5 448.2L690.5 448.2L691.5 448.2L692.5 448.3L693.5 448.3L694.5 448.3L695.5 448.3L696.5 448.4L697.5 448.4L698.5 448.4L699.5 448.5L700.5 448.5L701.5 448.5L702.5 448.5L703.5 448.6L704.5 448.6L705.5 448.6L706.5 448.7L707.5 448.7L708.5 448.7L709.5 448.7L710.5 448.8L711.5 448.8" fill="none" stroke="#FF00C8" stroke-width="3.6" stroke-dasharray="3 5" stroke-linejoin="round"/>
<path d="M386.5 434.6L387.5 434.6L388.5 434.6L389.5 434.6L390.5 434.6L391.5 434.6L392.5 434.6L393.5 434.6L394.5 434.6L395.5 434.6L396.5 434.6L397.5 434.6L398.5 434.5L399.5 434.5L400.5 434.5L401.5 434.5L402.5 434.5L403.5 434.5L404.5 434.5L405.5 434.5L406.5 434.5L407.5 434.5L408.5 434.5L409.5 434.5L410.5 434.5L411.5 434.5L412.5 434.5L413.5 434.5L414.5 434.5L415.5 434.5L416.5 434.5L417.5 434.5L418.5 434.5L419.5 434.5L420.5 434.5L421.5 434.5L422.5 434.4L423.5 434.4L424.5 434.4L425.5 434.4L426.5 434.4L427.5 434.4L428.5 434.4L429.5 434.4L430.5 434.4L431.5 434.4L432.5 434.4L433.5 434.4L434.5 434.4L435.5 434.4L436.5 434.4L437.5 434.4L438.5 434.4L439.5 434.4L440.5 434.4L441.5 434.4L442.5 434.4L443.5 434.4L444.5 434.4L445.5 434.3L446.5 434.3L447.5 434.3L448.5 434.3L449.5 434.3L450.5 434.3L451.5 434.3L452.5 434.3L453.5 434.3L454.5 434.3L455.5 434.3L456.5 434.3L457.5 434.3L458.5 434.3L459.5 434.3L460.5 434.3L461.5 434.3L462.5 434.3L463.5 434.3L464.5 434.3L465.5 434.3L466.5 434.3L467.5 434.3L468.5 434.2L469.5 434.2L470.5 434.2L471.5 434.2L472.5 434.2L473.5 434.2L474.5 434.2L475.5 434.2L476.5 434.2L477.5 434.2L478.5 434.2L479.5 434.2L480.5 434.2L481.5 434.2L482.5 434.1L483.5 434.1L484.5 434.1L485.5 434.1L486.5 434.0L487.5 434.0L488.5 434.0L489.5 433.9L490.5 433.9L491.5 433.9L492.5 433.9L493.5 433.8L494.5 433.8L495.5 433.8L496.5 433.8L497.5 433.7L498.5 433.7L499.5 433.7L500.5 433.7L501.5 433.6L502.5 433.6L503.5 433.6L504.5 433.5L505.5 433.5L506.5 433.5L507.5 433.5L508.5 433.4L509.5 433.4L510.5 433.4L511.5 433.3L512.5 433.3L513.5 433.3L514.5 433.2L515.5 433.2L516.5 433.1L517.5 433.1L518.5 433.1L519.5 433.0L520.5 433.0L521.5 432.9L522.5 432.9L523.5 432.9L524.5 432.8L525.5 432.8L526.5 432.7L527.5 432.7L528.5 432.7L529.5 432.6L530.5 432.6L531.5 432.6L532.5 432.5L533.5 432.5L534.5 432.5L535.5 432.5L536.5 432.4L537.5 432.4L538.5 432.4L539.5 432.3L540.5 432.3L541.5 432.3L542.5 432.3L543.5 432.2L544.5 432.2L545.5 432.2L546.5 432.3L547.5 432.4L548.5 432.5L549.5 432.6L550.5 432.7L551.5 432.7L552.5 432.8L553.5 432.9L554.5 433.0L555.5 433.1L556.5 433.2L557.5 433.3L558.5 433.5L559.5 433.7L560.5 433.8L561.5 434.0L562.5 434.2L563.5 434.4L564.5 434.6L565.5 434.7L566.5 434.9L567.5 435.1L568.5 435.3L569.5 435.6L570.5 435.9L571.5 436.2L572.5 436.5L573.5 436.8L574.5 437.0L575.5 437.3L576.5 437.6L577.5 437.9L578.5 438.2L579.5 438.5L580.5 438.8L581.5 439.3L582.5 439.8L583.5 440.2L584.5 440.7L585.5 441.2L586.5 441.6L587.5 442.1L588.5 442.6L589.5 443.0L590.5 443.5L591.5 444.0L592.5 444.4L593.5 444.9L594.5 445.3L595.5 445.7L596.5 446.2L597.5 446.6L598.5 447.0L599.5 447.5L600.5 447.9L601.5 448.3L602.5 448.8L603.5 449.0L604.5 449.1L605.5 449.1L606.5 449.1L607.5 449.2L608.5 449.2L609.5 449.2L610.5 449.3L611.5 449.3L612.5 449.3L613.5 449.4L614.5 449.4L615.5 449.4L616.5 449.5L617.5 449.5L618.5 449.5L619.5 449.6L620.5 449.6L621.5 449.6L622.5 449.7L623.5 449.7L624.5 449.8L625.5 449.8L626.5 449.8L627.5 449.9L628.5 449.9L629.5 449.9L630.5 450.0L631.5 450.0L632.5 450.0L633.5 450.1L634.5 450.1L635.5 450.1L636.5 450.2L637.5 450.2L638.5 450.2L639.5 450.3L640.5 450.3L641.5 450.3L642.5 450.3L643.5 450.3L644.5 450.3L645.5 450.3L646.5 450.3L647.5 450.3L648.5 450.3L649.5 450.3L650.5 450.3L651.5 450.3L652.5 450.3L653.5 450.3L654.5 450.3L655.5 450.3L656.5 450.3L657.5 450.3L658.5 450.3L659.5 450.3L660.5 450.3L661.5 450.3L662.5 450.3L663.5 450.3L664.5 450.3L665.5 450.3L666.5 450.3L667.5 450.3L668.5 450.3L669.5 450.3L670.5 450.3L671.5 450.3L672.5 450.3L673.5 450.3L674.5 450.3L675.5 450.3L676.5 450.3L677.5 450.3L678.5 450.3L679.5 450.3L680.5 450.3L681.5 450.3L682.5 450.3L683.5 450.3L684.5 450.3L685.5 450.3L686.5 450.3L687.5 450.3L688.5 450.3L689.5 450.3L690.5 450.3L691.5 450.3L692.5 450.3L693.5 450.3L694.5 450.3L695.5 450.3L696.5 450.3L697.5 450.3L698.5 450.3L699.5 450.3L700.5 450.3L701.5 450.3L702.5 450.3L703.5 450.3L704.5 450.3L705.5 450.3L706.5 450.3L707.5 450.3L708.5 450.3L709.5 450.3L710.5 450.3L711.5 450.3" fill="none" stroke="#8000FF" stroke-width="2.6"/>
<path d="M386.5 434.3L387.5 434.3L388.5 434.3L389.5 434.3L390.5 434.2L391.5 434.2L392.5 434.2L393.5 434.2L394.5 434.2L395.5 434.2L396.5 434.2L397.5 434.1L398.5 434.1L399.5 434.1L400.5 434.1L401.5 434.1L402.5 434.1L403.5 434.0L404.5 434.0L405.5 434.0L406.5 434.0L407.5 434.0L408.5 434.0L409.5 434.0L410.5 433.9L411.5 433.9L412.5 433.9L413.5 433.9L414.5 433.9L415.5 433.9L416.5 433.9L417.5 433.8L418.5 433.8L419.5 433.8L420.5 433.8L421.5 433.8L422.5 433.8L423.5 433.7L424.5 433.7L425.5 433.7L426.5 433.7L427.5 433.7L428.5 433.7L429.5 433.7L430.5 433.6L431.5 433.6L432.5 433.6L433.5 433.6L434.5 433.6L435.5 433.6L436.5 433.6L437.5 433.5L438.5 433.5L439.5 433.5L440.5 433.5L441.5 433.5L442.5 433.5L443.5 433.4L444.5 433.4L445.5 433.4L446.5 433.4L447.5 433.4L448.5 433.4L449.5 433.4L450.5 433.3L451.5 433.3L452.5 433.3L453.5 433.3L454.5 433.3L455.5 433.3L456.5 433.3L457.5 433.2L458.5 433.2L459.5 433.2L460.5 433.2L461.5 433.2L462.5 433.2L463.5 433.1L464.5 433.1L465.5 433.1L466.5 433.1L467.5 433.1L468.5 433.1L469.5 433.1L470.5 433.0L471.5 433.0L472.5 433.0L473.5 433.0L474.5 433.0L475.5 433.0L476.5 433.0L477.5 432.9L478.5 432.9L479.5 432.9L480.5 432.9L481.5 432.9L482.5 432.9L483.5 432.8L484.5 432.8L485.5 432.8L486.5 432.8L487.5 432.8L488.5 432.8L489.5 432.8L490.5 432.7L491.5 432.7L492.5 432.7L493.5 432.7L494.5 432.7L495.5 432.7L496.5 432.7L497.5 432.6L498.5 432.6L499.5 432.6L500.5 432.6L501.5 432.5L502.5 432.4L503.5 432.2L504.5 432.2L505.5 432.1L506.5 432.0L507.5 431.9L508.5 431.8L509.5 431.7L510.5 431.6L511.5 431.5L512.5 431.4L513.5 431.2L514.5 431.2L515.5 431.1L516.5 431.0L517.5 430.9L518.5 430.8L519.5 430.7L520.5 430.6L521.5 430.5L522.5 430.4L523.5 430.2L524.5 430.2L525.5 430.1L526.5 430.0L527.5 429.9L528.5 429.8L529.5 429.7L530.5 429.4L531.5 429.1L532.5 428.8L533.5 428.5L534.5 428.2L535.5 427.8L536.5 427.5L537.5 427.2L538.5 426.9L539.5 426.6L540.5 426.2L541.5 425.9L542.5 425.6L543.5 425.3L544.5 424.9L545.5 424.6L546.5 424.3L547.5 424.0L548.5 423.6L549.5 423.3L550.5 423.0L551.5 422.6L552.5 422.3L553.5 422.0L554.5 421.6L555.5 421.3L556.5 421.1L557.5 421.0L558.5 420.8L559.5 420.7L560.5 420.8L561.5 421.3L562.5 421.7L563.5 422.2L564.5 422.9L565.5 423.6L566.5 424.2L567.5 424.9L568.5 425.6L569.5 426.3L570.5 427.0L571.5 428.0L572.5 429.0L573.5 430.0L574.5 431.1L575.5 432.1L576.5 433.1L577.5 434.1L578.5 434.9L579.5 435.6L580.5 436.2L581.5 436.9L582.5 437.6L583.5 438.3L584.5 438.9L585.5 439.4L586.5 440.0L587.5 440.5L588.5 441.1L589.5 441.6L590.5 442.2L591.5 442.7L592.5 443.3L593.5 443.8L594.5 444.4L595.5 444.9L596.5 445.5L597.5 446.0L598.5 446.6L599.5 447.1L600.5 447.6L601.5 447.9L602.5 448.1L603.5 448.3L604.5 448.6L605.5 448.8L606.5 449.0L607.5 449.3L608.5 449.4L609.5 449.4L610.5 449.4L611.5 449.4L612.5 449.4L613.5 449.4L614.5 449.4L615.5 449.4L616.5 449.4L617.5 449.5L618.5 449.5L619.5 449.5L620.5 449.5L621.5 449.5L622.5 449.5L623.5 449.5L624.5 449.5L625.5 449.5L626.5 449.5L627.5 449.5L628.5 449.5L629.5 449.5L630.5 449.5L631.5 449.5L632.5 449.5L633.5 449.5L634.5 449.6L635.5 449.6L636.5 449.6L637.5 449.6L638.5 449.6L639.5 449.6L640.5 449.6L641.5 449.6L642.5 449.6L643.5 449.6L644.5 449.6L645.5 449.6L646.5 449.6L647.5 449.6L648.5 449.6L649.5 449.6L650.5 449.6L651.5 449.7L652.5 449.7L653.5 449.7L654.5 449.7L655.5 449.7L656.5 449.7L657.5 449.7L658.5 449.7L659.5 449.7L660.5 449.7L661.5 449.7L662.5 449.7L663.5 449.7L664.5 449.7L665.5 449.7L666.5 449.7L667.5 449.7L668.5 449.8L669.5 449.8L670.5 449.8L671.5 449.8L672.5 449.8L673.5 449.8L674.5 449.8L675.5 449.8L676.5 449.8L677.5 449.8L678.5 449.8L679.5 449.8L680.5 449.8L681.5 449.8L682.5 449.8L683.5 449.8L684.5 449.8L685.5 449.8L686.5 449.9L687.5 449.9L688.5 449.9L689.5 449.9L690.5 449.9L691.5 449.9L692.5 449.9L693.5 449.9L694.5 449.9L695.5 449.9L696.5 449.9L697.5 449.9L698.5 449.9L699.5 449.9L700.5 449.9L701.5 449.9L702.5 449.9L703.5 450.0L704.5 450.0L705.5 450.0L706.5 450.0L707.5 450.0L708.5 450.0L709.5 450.0L710.5 450.0L711.5 450.0" fill="none" stroke="#FF00FF" stroke-width="2.6" stroke-linejoin="round"/>
<path d="M386.5 433.9L387.5 433.9L388.5 433.9L389.5 433.9L390.5 433.9L391.5 433.8L392.5 433.8L393.5 433.8L394.5 433.8L395.5 433.8L396.5 433.8L397.5 433.8L398.5 433.8L399.5 433.8L400.5 433.7L401.5 433.7L402.5 433.7L403.5 433.7L404.5 433.7L405.5 433.7L406.5 433.7L407.5 433.7L408.5 433.7L409.5 433.6L410.5 433.6L411.5 433.6L412.5 433.6L413.5 433.6L414.5 433.6L415.5 433.6L416.5 433.6L417.5 433.6L418.5 433.5L419.5 433.5L420.5 433.5L421.5 433.5L422.5 433.5L423.5 433.5L424.5 433.5L425.5 433.5L426.5 433.5L427.5 433.4L428.5 433.4L429.5 433.4L430.5 433.4L431.5 433.4L432.5 433.4L433.5 433.4L434.5 433.4L435.5 433.4L436.5 433.3L437.5 433.3L438.5 433.3L439.5 433.3L440.5 433.3L441.5 433.3L442.5 433.2L443.5 433.2L444.5 433.2L445.5 433.2L446.5 433.2L447.5 433.2L448.5 433.1L449.5 433.1L450.5 433.1L451.5 433.1L452.5 433.1L453.5 433.0L454.5 433.0L455.5 433.0L456.5 433.0L457.5 432.9L458.5 432.9L459.5 432.9L460.5 432.9L461.5 432.9L462.5 432.9L463.5 432.8L464.5 432.8L465.5 432.8L466.5 432.8L467.5 432.8L468.5 432.7L469.5 432.7L470.5 432.7L471.5 432.7L472.5 432.6L473.5 432.6L474.5 432.6L475.5 432.6L476.5 432.6L477.5 432.6L478.5 432.5L479.5 432.5L480.5 432.5L481.5 432.4L482.5 432.4L483.5 432.4L484.5 432.3L485.5 432.3L486.5 432.2L487.5 432.2L488.5 432.2L489.5 432.1L490.5 432.1L491.5 432.0L492.5 432.0L493.5 432.0L494.5 431.9L495.5 431.9L496.5 431.8L497.5 431.8L498.5 431.8L499.5 431.7L500.5 431.6L501.5 431.5L502.5 431.4L503.5 431.3L504.5 431.2L505.5 431.1L506.5 431.0L507.5 430.9L508.5 430.8L509.5 430.7L510.5 430.6L511.5 430.5L512.5 430.4L513.5 430.3L514.5 430.2L515.5 430.1L516.5 430.0L517.5 429.9L518.5 429.8L519.5 429.7L520.5 429.6L521.5 429.5L522.5 429.4L523.5 429.3L524.5 429.2L525.5 429.0L526.5 428.8L527.5 428.6L528.5 428.5L529.5 428.3L530.5 428.1L531.5 427.9L532.5 427.7L533.5 427.5L534.5 427.3L535.5 427.1L536.5 426.9L537.5 426.7L538.5 426.5L539.5 426.3L540.5 426.2L541.5 426.0L542.5 425.8L543.5 425.6L544.5 425.4L545.5 425.2L546.5 425.0L547.5 424.6L548.5 424.2L549.5 423.8L550.5 423.4L551.5 423.0L552.5 422.6L553.5 422.2L554.5 421.8L555.5 421.3L556.5 420.6L557.5 419.9L558.5 419.2L559.5 418.5L560.5 417.8L561.5 416.8L562.5 415.8L563.5 414.8L564.5 413.9L565.5 412.9L566.5 411.9L567.5 410.9L568.5 409.4L569.5 407.6L570.5 405.8L571.5 404.0L572.5 401.5L573.5 399.0L574.5 396.1L575.5 391.4L576.5 386.7L577.5 381.5L578.5 373.8L579.5 366.2L580.5 358.3L581.5 349.4L582.5 340.5L583.5 331.5L584.5 322.6L585.5 313.7L586.5 305.4L587.5 297.4L588.5 289.8L589.5 284.1L590.5 279.6L591.5 278.1L592.5 279.3L593.5 282.6L594.5 287.8L595.5 293.4L596.5 300.3L597.5 307.2L598.5 314.9L599.5 324.5L600.5 334.1L601.5 342.8L602.5 351.1L603.5 359.3L604.5 367.1L605.5 373.7L606.5 380.3L607.5 386.9L608.5 393.3L609.5 399.4L610.5 405.5L611.5 411.6L612.5 415.0L613.5 417.8L614.5 420.6L615.5 423.4L616.5 426.2L617.5 429.0L618.5 431.0L619.5 432.2L620.5 433.3L621.5 434.5L622.5 435.7L623.5 436.9L624.5 438.0L625.5 439.2L626.5 439.6L627.5 440.0L628.5 440.4L629.5 440.8L630.5 441.2L631.5 441.6L632.5 442.0L633.5 442.4L634.5 442.8L635.5 443.2L636.5 443.6L637.5 444.0L638.5 444.3L639.5 444.4L640.5 444.5L641.5 444.7L642.5 444.8L643.5 445.0L644.5 445.1L645.5 445.3L646.5 445.4L647.5 445.5L648.5 445.7L649.5 445.8L650.5 446.0L651.5 446.1L652.5 446.2L653.5 446.4L654.5 446.5L655.5 446.7L656.5 446.7L657.5 446.8L658.5 446.8L659.5 446.9L660.5 447.0L661.5 447.0L662.5 447.1L663.5 447.1L664.5 447.2L665.5 447.2L666.5 447.3L667.5 447.3L668.5 447.4L669.5 447.4L670.5 447.5L671.5 447.5L672.5 447.6L673.5 447.7L674.5 447.7L675.5 447.8L676.5 447.8L677.5 447.9L678.5 447.9L679.5 448.0L680.5 448.0L681.5 448.0L682.5 448.1L683.5 448.1L684.5 448.1L685.5 448.2L686.5 448.2L687.5 448.2L688.5 448.2L689.5 448.3L690.5 448.3L691.5 448.3L692.5 448.4L693.5 448.4L694.5 448.4L695.5 448.4L696.5 448.5L697.5 448.5L698.5 448.5L699.5 448.6L700.5 448.6L701.5 448.6L702.5 448.6L703.5 448.7L704.5 448.7L705.5 448.7L706.5 448.8L707.5 448.8L708.5 448.8L709.5 448.8L710.5 448.9L711.5 448.9" fill="none" stroke="#00FF00" stroke-width="3.3" stroke-linejoin="round"/>
<path d="M386.5 434.8L387.5 434.8L388.5 434.8L389.5 434.8L390.5 434.8L391.5 434.8L392.5 434.7L393.5 434.7L394.5 434.7L395.5 434.7L396.5 434.7L397.5 434.7L398.5 434.7L399.5 434.7L400.5 434.7L401.5 434.7L402.5 434.7L403.5 434.6L404.5 434.6L405.5 434.6L406.5 434.6L407.5 434.6L408.5 434.6L409.5 434.6L410.5 434.6L411.5 434.6L412.5 434.6L413.5 434.5L414.5 434.5L415.5 434.5L416.5 434.5L417.5 434.5L418.5 434.5L419.5 434.5L420.5 434.5L421.5 434.5L422.5 434.5L423.5 434.5L424.5 434.4L425.5 434.4L426.5 434.4L427.5 434.4L428.5 434.4L429.5 434.4L430.5 434.4L431.5 434.4L432.5 434.4L433.5 434.4L434.5 434.4L435.5 434.3L436.5 434.3L437.5 434.3L438.5 434.3L439.5 434.3L440.5 434.3L441.5 434.3L442.5 434.3L443.5 434.2L444.5 434.2L445.5 434.2L446.5 434.2L447.5 434.2L448.5 434.1L449.5 434.1L450.5 434.1L451.5 434.1L452.5 434.1L453.5 434.1L454.5 434.0L455.5 434.0L456.5 434.0L457.5 434.0L458.5 434.0L459.5 433.9L460.5 433.9L461.5 433.9L462.5 433.9L463.5 433.9L464.5 433.9L465.5 433.8L466.5 433.8L467.5 433.8L468.5 433.8L469.5 433.8L470.5 433.7L471.5 433.7L472.5 433.7L473.5 433.7L474.5 433.7L475.5 433.6L476.5 433.6L477.5 433.6L478.5 433.6L479.5 433.6L480.5 433.6L481.5 433.5L482.5 433.5L483.5 433.5L484.5 433.5L485.5 433.5L486.5 433.4L487.5 433.4L488.5 433.4L489.5 433.4L490.5 433.4L491.5 433.4L492.5 433.3L493.5 433.3L494.5 433.3L495.5 433.3L496.5 433.3L497.5 433.2L498.5 433.2L499.5 433.2L500.5 433.2L501.5 433.1L502.5 433.1L503.5 433.0L504.5 433.0L505.5 433.0L506.5 432.9L507.5 432.9L508.5 432.8L509.5 432.8L510.5 432.7L511.5 432.7L512.5 432.7L513.5 432.6L514.5 432.6L515.5 432.5L516.5 432.5L517.5 432.4L518.5 432.4L519.5 432.4L520.5 432.3L521.5 432.3L522.5 432.2L523.5 432.2L524.5 432.1L525.5 432.1L526.5 432.1L527.5 432.0L528.5 432.0L529.5 431.9L530.5 431.9L531.5 431.8L532.5 431.8L533.5 431.8L534.5 431.7L535.5 431.7L536.5 431.6L537.5 431.6L538.5 431.5L539.5 431.5L540.5 431.5L541.5 431.4L542.5 431.4L543.5 431.3L544.5 431.3L545.5 431.2L546.5 431.2L547.5 431.3L548.5 431.4L549.5 431.5L550.5 431.6L551.5 431.7L552.5 431.8L553.5 431.9L554.5 432.0L555.5 432.1L556.5 432.2L557.5 432.3L558.5 432.4L559.5 432.4L560.5 432.5L561.5 432.6L562.5 432.7L563.5 432.8L564.5 432.9L565.5 433.0L566.5 433.1L567.5 433.2L568.5 433.3L569.5 433.6L570.5 433.9L571.5 434.2L572.5 434.5L573.5 434.8L574.5 435.1L575.5 435.4L576.5 435.8L577.5 436.1L578.5 436.4L579.5 436.7L580.5 437.2L581.5 437.7L582.5 438.2L583.5 438.6L584.5 439.1L585.5 439.6L586.5 440.1L587.5 440.6L588.5 441.1L589.5 441.6L590.5 442.1L591.5 442.6L592.5 443.2L593.5 443.7L594.5 444.3L595.5 444.8L596.5 445.4L597.5 445.9L598.5 446.5L599.5 447.0L600.5 447.5L601.5 447.9L602.5 448.2L603.5 448.6L604.5 448.9L605.5 449.2L606.5 449.4L607.5 449.4L608.5 449.4L609.5 449.4L610.5 449.4L611.5 449.4L612.5 449.4L613.5 449.4L614.5 449.4L615.5 449.5L616.5 449.5L617.5 449.5L618.5 449.5L619.5 449.5L620.5 449.5L621.5 449.5L622.5 449.5L623.5 449.5L624.5 449.5L625.5 449.5L626.5 449.5L627.5 449.5L628.5 449.5L629.5 449.5L630.5 449.5L631.5 449.6L632.5 449.6L633.5 449.6L634.5 449.6L635.5 449.6L636.5 449.6L637.5 449.6L638.5 449.6L639.5 449.6L640.5 449.6L641.5 449.6L642.5 449.6L643.5 449.6L644.5 449.6L645.5 449.6L646.5 449.6L647.5 449.6L648.5 449.6L649.5 449.6L650.5 449.6L651.5 449.6L652.5 449.7L653.5 449.7L654.5 449.7L655.5 449.7L656.5 449.7L657.5 449.7L658.5 449.7L659.5 449.7L660.5 449.7L661.5 449.7L662.5 449.7L663.5 449.7L664.5 449.7L665.5 449.7L666.5 449.7L667.5 449.7L668.5 449.7L669.5 449.7L670.5 449.7L671.5 449.7L672.5 449.7L673.5 449.7L674.5 449.7L675.5 449.7L676.5 449.8L677.5 449.8L678.5 449.8L679.5 449.8L680.5 449.8L681.5 449.8L682.5 449.8L683.5 449.8L684.5 449.8L685.5 449.8L686.5 449.8L687.5 449.8L688.5 449.8L689.5 449.8L690.5 449.8L691.5 449.8L692.5 449.8L693.5 449.8L694.5 449.8L695.5 449.8L696.5 449.8L697.5 449.8L698.5 449.8L699.5 449.8L700.5 449.9L701.5 449.9L702.5 449.9L703.5 449.9L704.5 449.9L705.5 449.9L706.5 449.9L707.5 449.9L708.5 449.9L709.5 449.9L710.5 449.9L711.5 449.9" fill="none" stroke="#FF8000" stroke-width="2.7" stroke-linejoin="round"/>
<line x1="633.0" y1="346.5" x2="607.5" y2="378.0" stroke="#FF0000" stroke-width="2.3" />
<path d="M606.3 379.6 L608.2 371.8 L612.6 375.4 Z" fill="#FF0000"/>
<line x1="545.5" y1="390.0" x2="559.6" y2="425.0" stroke="#FF0000" stroke-width="2.3" />
<line x1="517.6" y1="404.6" x2="546.2" y2="426.2" stroke="#FF0000" stroke-width="2.3" />
<text x="388.8" y="270.6" font-family='"Liberation Sans", sans-serif' font-size="21.5" font-weight="bold" fill="#000" text-anchor="start" stroke="#000" stroke-width="0.45" >(d)</text>
<text x="669.6" y="273.7" font-family='"Liberation Sans", sans-serif' font-size="16" font-weight="bold" fill="#000" text-anchor="start" textLength="30.5" lengthAdjust="spacingAndGlyphs" stroke="#000" stroke-width="0.45" >O1s</text>
<text x="634.9" y="346.2" font-family='"Liberation Sans", sans-serif' font-size="16" font-weight="bold" fill="#000" text-anchor="start" textLength="11.8" lengthAdjust="spacingAndGlyphs" stroke="#000" stroke-width="0.45" >O</text>
<text x="647.5" y="334.6" font-family='"Liberation Sans", sans-serif' font-size="14" font-weight="bold" fill="#000" text-anchor="start" textLength="12.5" lengthAdjust="spacingAndGlyphs" stroke="#000" stroke-width="0.45" >2-</text>
<text x="525.8" y="377.0" font-family='"Liberation Sans", sans-serif' font-size="16" font-weight="bold" fill="#000" text-anchor="start" textLength="11.5" lengthAdjust="spacingAndGlyphs" stroke="#000" stroke-width="0.45" >O</text>
<text x="537.4" y="385.0" font-family='"Liberation Sans", sans-serif' font-size="14" font-weight="bold" fill="#000" text-anchor="start" stroke="#000" stroke-width="0.45" >2</text>
<text x="483.6" y="397.6" font-family='"Liberation Sans", sans-serif' font-size="16" font-weight="bold" fill="#000" text-anchor="start" stroke="#000" stroke-width="0.45" >H</text>
<text x="493.2" y="403.8" font-family='"Liberation Sans", sans-serif' font-size="14" font-weight="bold" fill="#000" text-anchor="start" stroke="#000" stroke-width="0.45" >2</text>
<text x="502.2" y="397.6" font-family='"Liberation Sans", sans-serif' font-size="16" font-weight="bold" fill="#000" text-anchor="start" textLength="11.5" lengthAdjust="spacingAndGlyphs" stroke="#000" stroke-width="0.45" >O</text>
<text x="383.8" y="477.1" font-family='"Liberation Serif", serif' font-size="18" font-weight="bold" fill="#000" text-anchor="middle" textLength="25.7" lengthAdjust="spacingAndGlyphs" stroke="#000" stroke-width="0.45" >540</text>
<text x="427.4" y="477.1" font-family='"Liberation Serif", serif' font-size="18" font-weight="bold" fill="#000" text-anchor="middle" textLength="25.7" lengthAdjust="spacingAndGlyphs" stroke="#000" stroke-width="0.45" >538</text>
<text x="471.1" y="477.1" font-family='"Liberation Serif", serif' font-size="18" font-weight="bold" fill="#000" text-anchor="middle" textLength="25.7" lengthAdjust="spacingAndGlyphs" stroke="#000" stroke-width="0.45" >536</text>
<text x="514.9" y="477.1" font-family='"Liberation Serif", serif' font-size="18" font-weight="bold" fill="#000" text-anchor="middle" textLength="25.7" lengthAdjust="spacingAndGlyphs" stroke="#000" stroke-width="0.45" >534</text>
<text x="558.5" y="477.1" font-family='"Liberation Serif", serif' font-size="18" font-weight="bold" fill="#000" text-anchor="middle" textLength="25.7" lengthAdjust="spacingAndGlyphs" stroke="#000" stroke-width="0.45" >532</text>
<text x="602.2" y="477.1" font-family='"Liberation Serif", serif' font-size="18" font-weight="bold" fill="#000" text-anchor="middle" textLength="25.7" lengthAdjust="spacingAndGlyphs" stroke="#000" stroke-width="0.45" >530</text>
<text x="646.0" y="477.1" font-family='"Liberation Serif", serif' font-size="18" font-weight="bold" fill="#000" text-anchor="middle" textLength="25.7" lengthAdjust="spacingAndGlyphs" stroke="#000" stroke-width="0.45" >528</text>
<text x="689.6" y="477.1" font-family='"Liberation Serif", serif' font-size="18" font-weight="bold" fill="#000" text-anchor="middle" textLength="25.7" lengthAdjust="spacingAndGlyphs" stroke="#000" stroke-width="0.45" >526</text>
<text x="547.4" y="496.3" font-family='"Liberation Sans", sans-serif' font-size="18.2" font-weight="bold" fill="#000" text-anchor="middle" textLength="146.8" lengthAdjust="spacingAndGlyphs" stroke="#000" stroke-width="0.5">Binding Energy (eV)</text>
</g>
</svg>
</body></html>
